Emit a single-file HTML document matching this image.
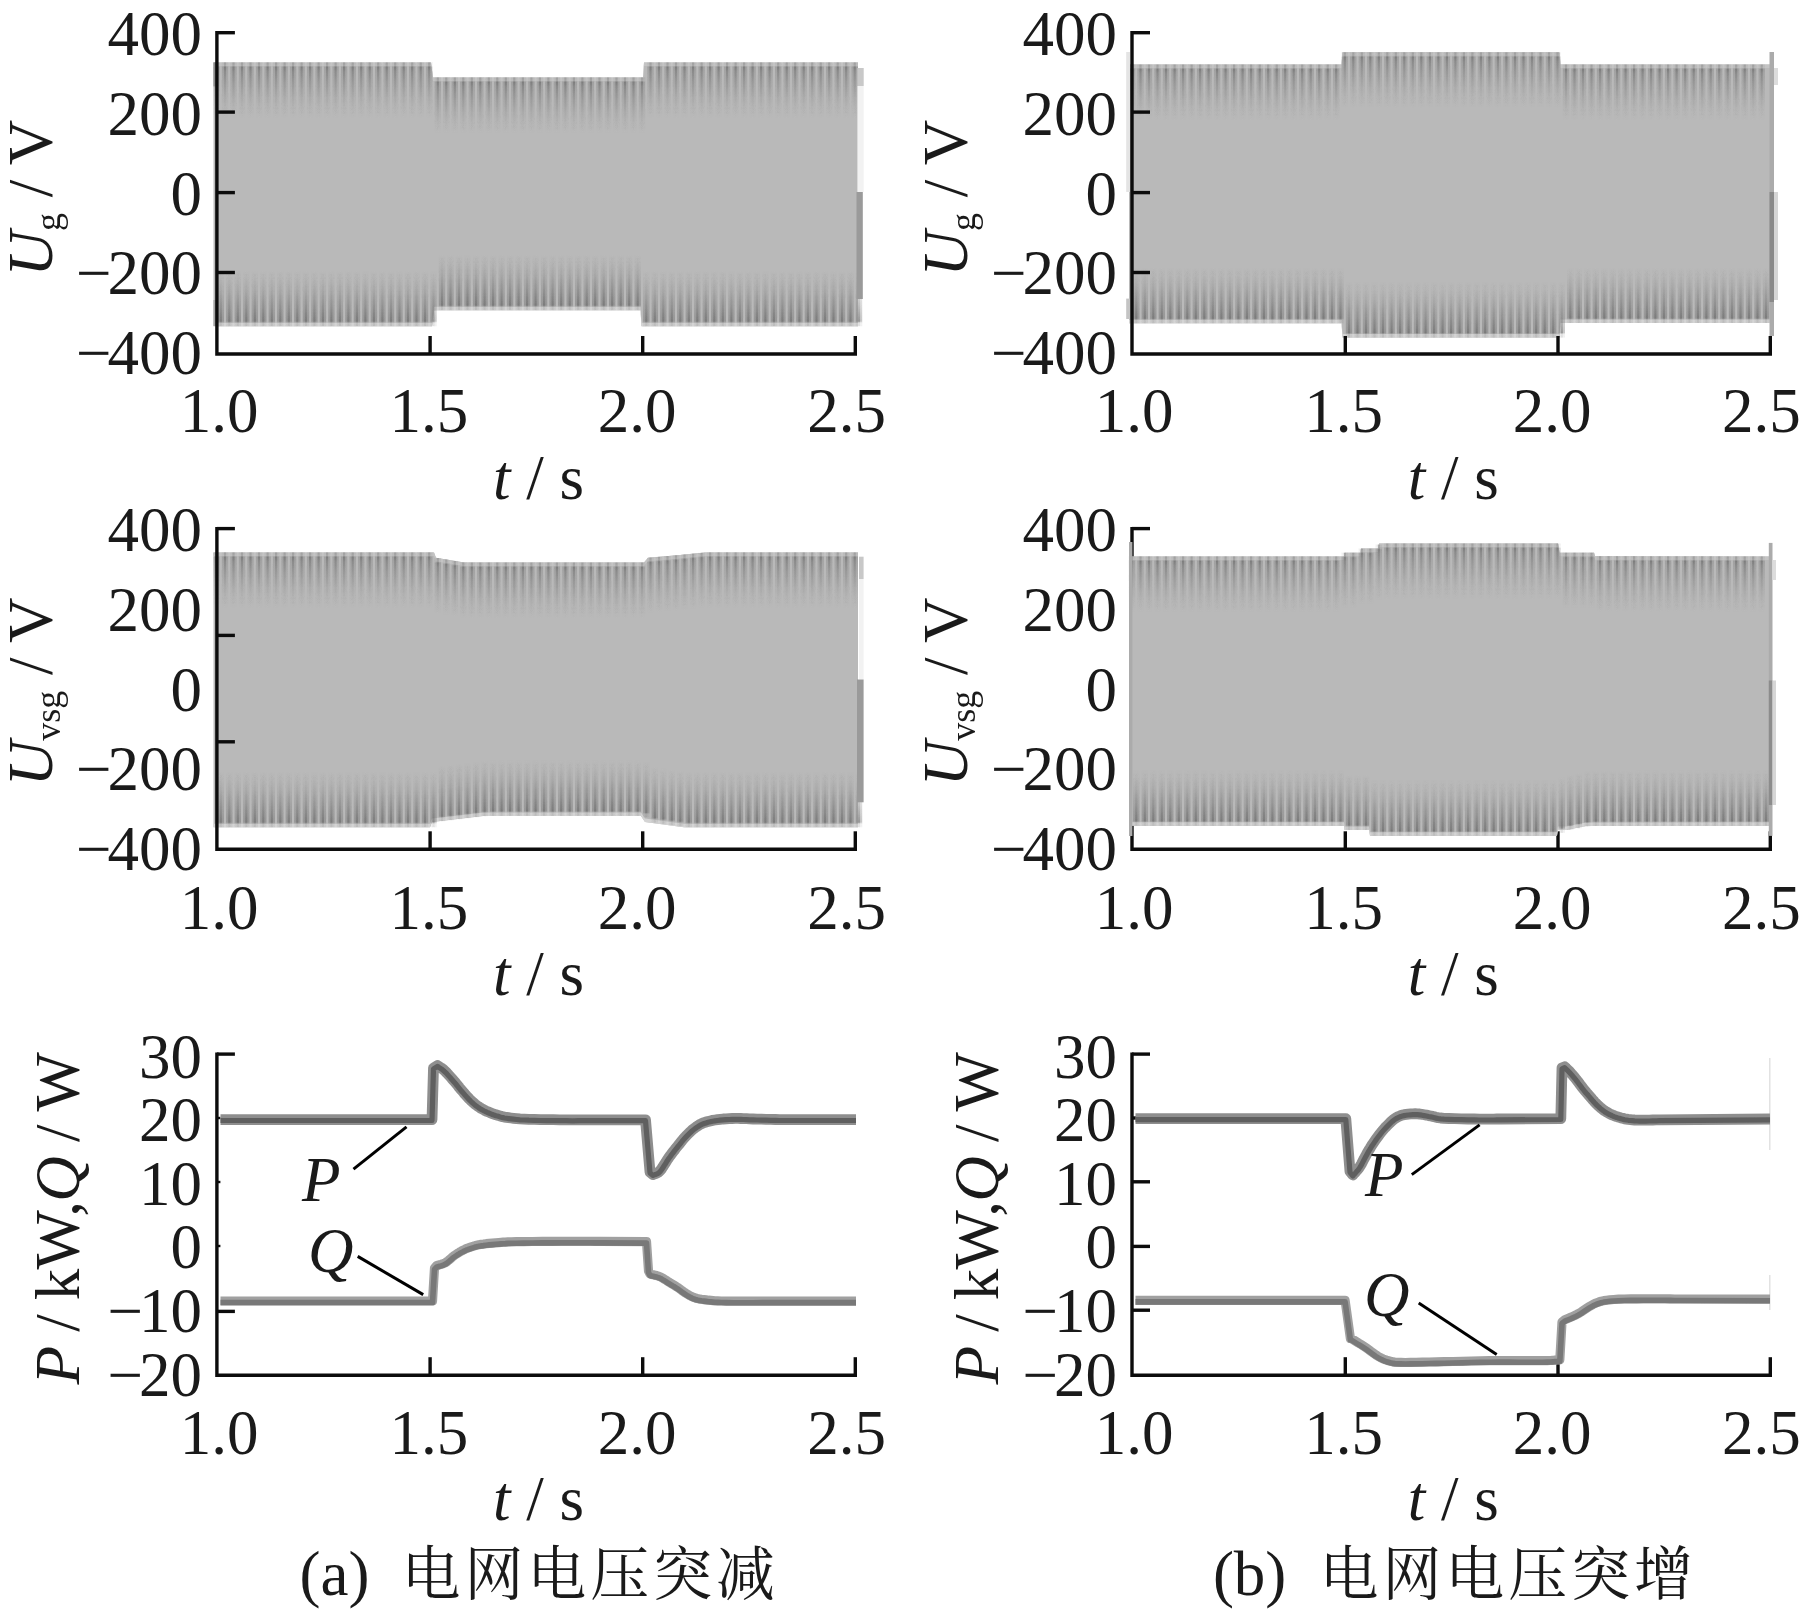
<!DOCTYPE html>
<html><head><meta charset="utf-8"><title>figure</title><style>html,body{margin:0;padding:0;background:#fff}svg{display:block;filter:grayscale(1)}</style></head><body>
<svg width="1805" height="1614" viewBox="0 0 1805 1614">
<defs><linearGradient id="gT" x1="0" y1="0" x2="0" y2="1"><stop offset="0" stop-color="#505050" stop-opacity="0.25"/><stop offset="0.06" stop-color="#505050" stop-opacity="0.2"/><stop offset="0.09" stop-color="#505050" stop-opacity="0.42"/><stop offset="0.16" stop-color="#505050" stop-opacity="0.3"/><stop offset="0.35" stop-color="#505050" stop-opacity="0.18"/><stop offset="0.65" stop-color="#505050" stop-opacity="0.06"/><stop offset="1" stop-color="#505050" stop-opacity="0"/></linearGradient>
<linearGradient id="gB" x1="0" y1="1" x2="0" y2="0"><stop offset="0" stop-color="#505050" stop-opacity="0.1"/><stop offset="0.06" stop-color="#505050" stop-opacity="0.1"/><stop offset="0.09" stop-color="#505050" stop-opacity="0.4"/><stop offset="0.16" stop-color="#505050" stop-opacity="0.33"/><stop offset="0.35" stop-color="#505050" stop-opacity="0.2"/><stop offset="0.65" stop-color="#505050" stop-opacity="0.07"/><stop offset="1" stop-color="#505050" stop-opacity="0"/></linearGradient>
<linearGradient id="gTh" x1="0" y1="0" x2="0" y2="1"><stop offset="0" stop-color="#505050" stop-opacity="0.1"/><stop offset="0.06" stop-color="#505050" stop-opacity="0.06"/><stop offset="0.09" stop-color="#505050" stop-opacity="0.24"/><stop offset="0.16" stop-color="#505050" stop-opacity="0.2"/><stop offset="0.35" stop-color="#505050" stop-opacity="0.15"/><stop offset="0.65" stop-color="#505050" stop-opacity="0.07"/><stop offset="0.85" stop-color="#505050" stop-opacity="0.02"/><stop offset="1" stop-color="#505050" stop-opacity="0"/></linearGradient>
<linearGradient id="gBh" x1="0" y1="1" x2="0" y2="0"><stop offset="0" stop-color="#505050" stop-opacity="0.08"/><stop offset="0.06" stop-color="#505050" stop-opacity="0.08"/><stop offset="0.09" stop-color="#505050" stop-opacity="0.32"/><stop offset="0.16" stop-color="#505050" stop-opacity="0.3"/><stop offset="0.35" stop-color="#505050" stop-opacity="0.22"/><stop offset="0.65" stop-color="#505050" stop-opacity="0.1"/><stop offset="0.85" stop-color="#505050" stop-opacity="0.03"/><stop offset="1" stop-color="#505050" stop-opacity="0"/></linearGradient>
<filter id="sb" x="0" y="0" width="1" height="1" filterUnits="objectBoundingBox"><feGaussianBlur stdDeviation="0.5"/></filter>
<filter id="soft" x="-5%" y="-20%" width="110%" height="140%"><feGaussianBlur stdDeviation="0.7"/></filter></defs>
<rect width="1805" height="1614" fill="#fff"/>
<polygon points="213.5,62.4 431,62.4 433,77.4 643,77.4 644,62.4 858,62.4 858,326.2 641.5,326.2 640.5,310.2 434,310.2 432,326.2 213.5,326.2" fill="#b9b9b9"/>
<polygon points="213.5,62.4 431,62.4 433,77.4 643,77.4 644,62.4 858,62.4 858,65.9 644,65.9 643,80.9 433,80.9 431,65.9 213.5,65.9" fill="#c4c4c4"/>
<polygon points="213.5,326.2 432,326.2 434,310.2 640.5,310.2 641.5,326.2 858,326.2 858,322.7 641.5,322.7 640.5,306.7 434,306.7 432,322.7 213.5,322.7" fill="#d4d4d4"/>
<g filter="url(#sb)"><rect x="213.3" y="62.4" width="6.4" height="56" fill="url(#gTh)"/><rect x="215.4" y="62.4" width="2.2" height="56" fill="url(#gT)"/><rect x="217.6" y="270.2" width="6.4" height="56" fill="url(#gBh)"/><rect x="219.7" y="270.2" width="2.2" height="56" fill="url(#gB)"/><rect x="221.8" y="62.4" width="6.4" height="56" fill="url(#gTh)"/><rect x="223.9" y="62.4" width="2.2" height="56" fill="url(#gT)"/><rect x="226.1" y="270.2" width="6.4" height="56" fill="url(#gBh)"/><rect x="228.2" y="270.2" width="2.2" height="56" fill="url(#gB)"/><rect x="230.3" y="62.4" width="6.4" height="56" fill="url(#gTh)"/><rect x="232.4" y="62.4" width="2.2" height="56" fill="url(#gT)"/><rect x="234.6" y="270.2" width="6.4" height="56" fill="url(#gBh)"/><rect x="236.7" y="270.2" width="2.2" height="56" fill="url(#gB)"/><rect x="238.8" y="62.4" width="6.4" height="56" fill="url(#gTh)"/><rect x="240.9" y="62.4" width="2.2" height="56" fill="url(#gT)"/><rect x="243.1" y="270.2" width="6.4" height="56" fill="url(#gBh)"/><rect x="245.2" y="270.2" width="2.2" height="56" fill="url(#gB)"/><rect x="247.3" y="62.4" width="6.4" height="56" fill="url(#gTh)"/><rect x="249.4" y="62.4" width="2.2" height="56" fill="url(#gT)"/><rect x="251.6" y="270.2" width="6.4" height="56" fill="url(#gBh)"/><rect x="253.7" y="270.2" width="2.2" height="56" fill="url(#gB)"/><rect x="255.9" y="62.4" width="6.4" height="56" fill="url(#gTh)"/><rect x="257.9" y="62.4" width="2.2" height="56" fill="url(#gT)"/><rect x="260.1" y="270.2" width="6.4" height="56" fill="url(#gBh)"/><rect x="262.2" y="270.2" width="2.2" height="56" fill="url(#gB)"/><rect x="264.4" y="62.4" width="6.4" height="56" fill="url(#gTh)"/><rect x="266.5" y="62.4" width="2.2" height="56" fill="url(#gT)"/><rect x="268.6" y="270.2" width="6.4" height="56" fill="url(#gBh)"/><rect x="270.7" y="270.2" width="2.2" height="56" fill="url(#gB)"/><rect x="272.9" y="62.4" width="6.4" height="56" fill="url(#gTh)"/><rect x="275" y="62.4" width="2.2" height="56" fill="url(#gT)"/><rect x="277.1" y="270.2" width="6.4" height="56" fill="url(#gBh)"/><rect x="279.2" y="270.2" width="2.2" height="56" fill="url(#gB)"/><rect x="281.4" y="62.4" width="6.4" height="56" fill="url(#gTh)"/><rect x="283.5" y="62.4" width="2.2" height="56" fill="url(#gT)"/><rect x="285.6" y="270.2" width="6.4" height="56" fill="url(#gBh)"/><rect x="287.7" y="270.2" width="2.2" height="56" fill="url(#gB)"/><rect x="289.9" y="62.4" width="6.4" height="56" fill="url(#gTh)"/><rect x="292" y="62.4" width="2.2" height="56" fill="url(#gT)"/><rect x="294.1" y="270.2" width="6.4" height="56" fill="url(#gBh)"/><rect x="296.2" y="270.2" width="2.2" height="56" fill="url(#gB)"/><rect x="298.4" y="62.4" width="6.4" height="56" fill="url(#gTh)"/><rect x="300.5" y="62.4" width="2.2" height="56" fill="url(#gT)"/><rect x="302.7" y="270.2" width="6.4" height="56" fill="url(#gBh)"/><rect x="304.8" y="270.2" width="2.2" height="56" fill="url(#gB)"/><rect x="306.9" y="62.4" width="6.4" height="56" fill="url(#gTh)"/><rect x="309" y="62.4" width="2.2" height="56" fill="url(#gT)"/><rect x="311.2" y="270.2" width="6.4" height="56" fill="url(#gBh)"/><rect x="313.3" y="270.2" width="2.2" height="56" fill="url(#gB)"/><rect x="315.4" y="62.4" width="6.4" height="56" fill="url(#gTh)"/><rect x="317.5" y="62.4" width="2.2" height="56" fill="url(#gT)"/><rect x="319.7" y="270.2" width="6.4" height="56" fill="url(#gBh)"/><rect x="321.8" y="270.2" width="2.2" height="56" fill="url(#gB)"/><rect x="323.9" y="62.4" width="6.4" height="56" fill="url(#gTh)"/><rect x="326" y="62.4" width="2.2" height="56" fill="url(#gT)"/><rect x="328.2" y="270.2" width="6.4" height="56" fill="url(#gBh)"/><rect x="330.3" y="270.2" width="2.2" height="56" fill="url(#gB)"/><rect x="332.4" y="62.4" width="6.4" height="56" fill="url(#gTh)"/><rect x="334.5" y="62.4" width="2.2" height="56" fill="url(#gT)"/><rect x="336.7" y="270.2" width="6.4" height="56" fill="url(#gBh)"/><rect x="338.8" y="270.2" width="2.2" height="56" fill="url(#gB)"/><rect x="340.9" y="62.4" width="6.4" height="56" fill="url(#gTh)"/><rect x="343" y="62.4" width="2.2" height="56" fill="url(#gT)"/><rect x="345.2" y="270.2" width="6.4" height="56" fill="url(#gBh)"/><rect x="347.3" y="270.2" width="2.2" height="56" fill="url(#gB)"/><rect x="349.5" y="62.4" width="6.4" height="56" fill="url(#gTh)"/><rect x="351.6" y="62.4" width="2.2" height="56" fill="url(#gT)"/><rect x="353.7" y="270.2" width="6.4" height="56" fill="url(#gBh)"/><rect x="355.8" y="270.2" width="2.2" height="56" fill="url(#gB)"/><rect x="358" y="62.4" width="6.4" height="56" fill="url(#gTh)"/><rect x="360.1" y="62.4" width="2.2" height="56" fill="url(#gT)"/><rect x="362.2" y="270.2" width="6.4" height="56" fill="url(#gBh)"/><rect x="364.3" y="270.2" width="2.2" height="56" fill="url(#gB)"/><rect x="366.5" y="62.4" width="6.4" height="56" fill="url(#gTh)"/><rect x="368.6" y="62.4" width="2.2" height="56" fill="url(#gT)"/><rect x="370.7" y="270.2" width="6.4" height="56" fill="url(#gBh)"/><rect x="372.8" y="270.2" width="2.2" height="56" fill="url(#gB)"/><rect x="375" y="62.4" width="6.4" height="56" fill="url(#gTh)"/><rect x="377.1" y="62.4" width="2.2" height="56" fill="url(#gT)"/><rect x="379.2" y="270.2" width="6.4" height="56" fill="url(#gBh)"/><rect x="381.3" y="270.2" width="2.2" height="56" fill="url(#gB)"/><rect x="383.5" y="62.4" width="6.4" height="56" fill="url(#gTh)"/><rect x="385.6" y="62.4" width="2.2" height="56" fill="url(#gT)"/><rect x="387.8" y="270.2" width="6.4" height="56" fill="url(#gBh)"/><rect x="389.9" y="270.2" width="2.2" height="56" fill="url(#gB)"/><rect x="392" y="62.4" width="6.4" height="56" fill="url(#gTh)"/><rect x="394.1" y="62.4" width="2.2" height="56" fill="url(#gT)"/><rect x="396.3" y="270.2" width="6.4" height="56" fill="url(#gBh)"/><rect x="398.4" y="270.2" width="2.2" height="56" fill="url(#gB)"/><rect x="400.5" y="62.4" width="6.4" height="56" fill="url(#gTh)"/><rect x="402.6" y="62.4" width="2.2" height="56" fill="url(#gT)"/><rect x="404.8" y="270.2" width="6.4" height="56" fill="url(#gBh)"/><rect x="406.9" y="270.2" width="2.2" height="56" fill="url(#gB)"/><rect x="409" y="62.4" width="6.4" height="56" fill="url(#gTh)"/><rect x="411.1" y="62.4" width="2.2" height="56" fill="url(#gT)"/><rect x="413.3" y="270.2" width="6.4" height="56" fill="url(#gBh)"/><rect x="415.4" y="270.2" width="2.2" height="56" fill="url(#gB)"/><rect x="417.5" y="62.4" width="6.4" height="56" fill="url(#gTh)"/><rect x="419.6" y="62.4" width="2.2" height="56" fill="url(#gT)"/><rect x="421.8" y="270.2" width="6.4" height="56" fill="url(#gBh)"/><rect x="423.9" y="270.2" width="2.2" height="56" fill="url(#gB)"/><rect x="426.1" y="62.4" width="6.4" height="56" fill="url(#gTh)"/><rect x="428.1" y="62.4" width="2.2" height="56" fill="url(#gT)"/><rect x="430.3" y="270.2" width="6.4" height="56" fill="url(#gBh)"/><rect x="432.4" y="270.2" width="2.2" height="56" fill="url(#gB)"/><rect x="434.6" y="77.4" width="6.4" height="56" fill="url(#gTh)"/><rect x="436.7" y="77.4" width="2.2" height="56" fill="url(#gT)"/><rect x="438.8" y="254.2" width="6.4" height="56" fill="url(#gBh)"/><rect x="440.9" y="254.2" width="2.2" height="56" fill="url(#gB)"/><rect x="443.1" y="77.4" width="6.4" height="56" fill="url(#gTh)"/><rect x="445.2" y="77.4" width="2.2" height="56" fill="url(#gT)"/><rect x="447.3" y="254.2" width="6.4" height="56" fill="url(#gBh)"/><rect x="449.4" y="254.2" width="2.2" height="56" fill="url(#gB)"/><rect x="451.6" y="77.4" width="6.4" height="56" fill="url(#gTh)"/><rect x="453.7" y="77.4" width="2.2" height="56" fill="url(#gT)"/><rect x="455.8" y="254.2" width="6.4" height="56" fill="url(#gBh)"/><rect x="457.9" y="254.2" width="2.2" height="56" fill="url(#gB)"/><rect x="460.1" y="77.4" width="6.4" height="56" fill="url(#gTh)"/><rect x="462.2" y="77.4" width="2.2" height="56" fill="url(#gT)"/><rect x="464.3" y="254.2" width="6.4" height="56" fill="url(#gBh)"/><rect x="466.4" y="254.2" width="2.2" height="56" fill="url(#gB)"/><rect x="468.6" y="77.4" width="6.4" height="56" fill="url(#gTh)"/><rect x="470.7" y="77.4" width="2.2" height="56" fill="url(#gT)"/><rect x="472.9" y="254.2" width="6.4" height="56" fill="url(#gBh)"/><rect x="475" y="254.2" width="2.2" height="56" fill="url(#gB)"/><rect x="477.1" y="77.4" width="6.4" height="56" fill="url(#gTh)"/><rect x="479.2" y="77.4" width="2.2" height="56" fill="url(#gT)"/><rect x="481.4" y="254.2" width="6.4" height="56" fill="url(#gBh)"/><rect x="483.5" y="254.2" width="2.2" height="56" fill="url(#gB)"/><rect x="485.6" y="77.4" width="6.4" height="56" fill="url(#gTh)"/><rect x="487.7" y="77.4" width="2.2" height="56" fill="url(#gT)"/><rect x="489.9" y="254.2" width="6.4" height="56" fill="url(#gBh)"/><rect x="492" y="254.2" width="2.2" height="56" fill="url(#gB)"/><rect x="494.1" y="77.4" width="6.4" height="56" fill="url(#gTh)"/><rect x="496.2" y="77.4" width="2.2" height="56" fill="url(#gT)"/><rect x="498.4" y="254.2" width="6.4" height="56" fill="url(#gBh)"/><rect x="500.5" y="254.2" width="2.2" height="56" fill="url(#gB)"/><rect x="502.6" y="77.4" width="6.4" height="56" fill="url(#gTh)"/><rect x="504.7" y="77.4" width="2.2" height="56" fill="url(#gT)"/><rect x="506.9" y="254.2" width="6.4" height="56" fill="url(#gBh)"/><rect x="509" y="254.2" width="2.2" height="56" fill="url(#gB)"/><rect x="511.1" y="77.4" width="6.4" height="56" fill="url(#gTh)"/><rect x="513.2" y="77.4" width="2.2" height="56" fill="url(#gT)"/><rect x="515.4" y="254.2" width="6.4" height="56" fill="url(#gBh)"/><rect x="517.5" y="254.2" width="2.2" height="56" fill="url(#gB)"/><rect x="519.7" y="77.4" width="6.4" height="56" fill="url(#gTh)"/><rect x="521.8" y="77.4" width="2.2" height="56" fill="url(#gT)"/><rect x="523.9" y="254.2" width="6.4" height="56" fill="url(#gBh)"/><rect x="526" y="254.2" width="2.2" height="56" fill="url(#gB)"/><rect x="528.2" y="77.4" width="6.4" height="56" fill="url(#gTh)"/><rect x="530.3" y="77.4" width="2.2" height="56" fill="url(#gT)"/><rect x="532.4" y="254.2" width="6.4" height="56" fill="url(#gBh)"/><rect x="534.5" y="254.2" width="2.2" height="56" fill="url(#gB)"/><rect x="536.7" y="77.4" width="6.4" height="56" fill="url(#gTh)"/><rect x="538.8" y="77.4" width="2.2" height="56" fill="url(#gT)"/><rect x="540.9" y="254.2" width="6.4" height="56" fill="url(#gBh)"/><rect x="543" y="254.2" width="2.2" height="56" fill="url(#gB)"/><rect x="545.2" y="77.4" width="6.4" height="56" fill="url(#gTh)"/><rect x="547.3" y="77.4" width="2.2" height="56" fill="url(#gT)"/><rect x="549.4" y="254.2" width="6.4" height="56" fill="url(#gBh)"/><rect x="551.5" y="254.2" width="2.2" height="56" fill="url(#gB)"/><rect x="553.7" y="77.4" width="6.4" height="56" fill="url(#gTh)"/><rect x="555.8" y="77.4" width="2.2" height="56" fill="url(#gT)"/><rect x="558" y="254.2" width="6.4" height="56" fill="url(#gBh)"/><rect x="560.1" y="254.2" width="2.2" height="56" fill="url(#gB)"/><rect x="562.2" y="77.4" width="6.4" height="56" fill="url(#gTh)"/><rect x="564.3" y="77.4" width="2.2" height="56" fill="url(#gT)"/><rect x="566.5" y="254.2" width="6.4" height="56" fill="url(#gBh)"/><rect x="568.6" y="254.2" width="2.2" height="56" fill="url(#gB)"/><rect x="570.7" y="77.4" width="6.4" height="56" fill="url(#gTh)"/><rect x="572.8" y="77.4" width="2.2" height="56" fill="url(#gT)"/><rect x="575" y="254.2" width="6.4" height="56" fill="url(#gBh)"/><rect x="577.1" y="254.2" width="2.2" height="56" fill="url(#gB)"/><rect x="579.2" y="77.4" width="6.4" height="56" fill="url(#gTh)"/><rect x="581.3" y="77.4" width="2.2" height="56" fill="url(#gT)"/><rect x="583.5" y="254.2" width="6.4" height="56" fill="url(#gBh)"/><rect x="585.6" y="254.2" width="2.2" height="56" fill="url(#gB)"/><rect x="587.7" y="77.4" width="6.4" height="56" fill="url(#gTh)"/><rect x="589.8" y="77.4" width="2.2" height="56" fill="url(#gT)"/><rect x="592" y="254.2" width="6.4" height="56" fill="url(#gBh)"/><rect x="594.1" y="254.2" width="2.2" height="56" fill="url(#gB)"/><rect x="596.2" y="77.4" width="6.4" height="56" fill="url(#gTh)"/><rect x="598.4" y="77.4" width="2.2" height="56" fill="url(#gT)"/><rect x="600.5" y="254.2" width="6.4" height="56" fill="url(#gBh)"/><rect x="602.6" y="254.2" width="2.2" height="56" fill="url(#gB)"/><rect x="604.8" y="77.4" width="6.4" height="56" fill="url(#gTh)"/><rect x="606.9" y="77.4" width="2.2" height="56" fill="url(#gT)"/><rect x="609" y="254.2" width="6.4" height="56" fill="url(#gBh)"/><rect x="611.1" y="254.2" width="2.2" height="56" fill="url(#gB)"/><rect x="613.3" y="77.4" width="6.4" height="56" fill="url(#gTh)"/><rect x="615.4" y="77.4" width="2.2" height="56" fill="url(#gT)"/><rect x="617.5" y="254.2" width="6.4" height="56" fill="url(#gBh)"/><rect x="619.6" y="254.2" width="2.2" height="56" fill="url(#gB)"/><rect x="621.8" y="77.4" width="6.4" height="56" fill="url(#gTh)"/><rect x="623.9" y="77.4" width="2.2" height="56" fill="url(#gT)"/><rect x="626" y="254.2" width="6.4" height="56" fill="url(#gBh)"/><rect x="628.1" y="254.2" width="2.2" height="56" fill="url(#gB)"/><rect x="630.3" y="77.4" width="6.4" height="56" fill="url(#gTh)"/><rect x="632.4" y="77.4" width="2.2" height="56" fill="url(#gT)"/><rect x="634.5" y="254.2" width="6.4" height="56" fill="url(#gBh)"/><rect x="636.6" y="254.2" width="2.2" height="56" fill="url(#gB)"/><rect x="638.8" y="77.4" width="6.4" height="56" fill="url(#gTh)"/><rect x="640.9" y="77.4" width="2.2" height="56" fill="url(#gT)"/><rect x="643.1" y="270.2" width="6.4" height="56" fill="url(#gBh)"/><rect x="645.2" y="270.2" width="2.2" height="56" fill="url(#gB)"/><rect x="647.3" y="62.4" width="6.4" height="56" fill="url(#gTh)"/><rect x="649.4" y="62.4" width="2.2" height="56" fill="url(#gT)"/><rect x="651.6" y="270.2" width="6.4" height="56" fill="url(#gBh)"/><rect x="653.7" y="270.2" width="2.2" height="56" fill="url(#gB)"/><rect x="655.8" y="62.4" width="6.4" height="56" fill="url(#gTh)"/><rect x="657.9" y="62.4" width="2.2" height="56" fill="url(#gT)"/><rect x="660.1" y="270.2" width="6.4" height="56" fill="url(#gBh)"/><rect x="662.2" y="270.2" width="2.2" height="56" fill="url(#gB)"/><rect x="664.3" y="62.4" width="6.4" height="56" fill="url(#gTh)"/><rect x="666.4" y="62.4" width="2.2" height="56" fill="url(#gT)"/><rect x="668.6" y="270.2" width="6.4" height="56" fill="url(#gBh)"/><rect x="670.7" y="270.2" width="2.2" height="56" fill="url(#gB)"/><rect x="672.8" y="62.4" width="6.4" height="56" fill="url(#gTh)"/><rect x="674.9" y="62.4" width="2.2" height="56" fill="url(#gT)"/><rect x="677.1" y="270.2" width="6.4" height="56" fill="url(#gBh)"/><rect x="679.2" y="270.2" width="2.2" height="56" fill="url(#gB)"/><rect x="681.3" y="62.4" width="6.4" height="56" fill="url(#gTh)"/><rect x="683.4" y="62.4" width="2.2" height="56" fill="url(#gT)"/><rect x="685.6" y="270.2" width="6.4" height="56" fill="url(#gBh)"/><rect x="687.7" y="270.2" width="2.2" height="56" fill="url(#gB)"/><rect x="689.9" y="62.4" width="6.4" height="56" fill="url(#gTh)"/><rect x="692" y="62.4" width="2.2" height="56" fill="url(#gT)"/><rect x="694.1" y="270.2" width="6.4" height="56" fill="url(#gBh)"/><rect x="696.2" y="270.2" width="2.2" height="56" fill="url(#gB)"/><rect x="698.4" y="62.4" width="6.4" height="56" fill="url(#gTh)"/><rect x="700.5" y="62.4" width="2.2" height="56" fill="url(#gT)"/><rect x="702.6" y="270.2" width="6.4" height="56" fill="url(#gBh)"/><rect x="704.7" y="270.2" width="2.2" height="56" fill="url(#gB)"/><rect x="706.9" y="62.4" width="6.4" height="56" fill="url(#gTh)"/><rect x="709" y="62.4" width="2.2" height="56" fill="url(#gT)"/><rect x="711.1" y="270.2" width="6.4" height="56" fill="url(#gBh)"/><rect x="713.2" y="270.2" width="2.2" height="56" fill="url(#gB)"/><rect x="715.4" y="62.4" width="6.4" height="56" fill="url(#gTh)"/><rect x="717.5" y="62.4" width="2.2" height="56" fill="url(#gT)"/><rect x="719.6" y="270.2" width="6.4" height="56" fill="url(#gBh)"/><rect x="721.7" y="270.2" width="2.2" height="56" fill="url(#gB)"/><rect x="723.9" y="62.4" width="6.4" height="56" fill="url(#gTh)"/><rect x="726" y="62.4" width="2.2" height="56" fill="url(#gT)"/><rect x="728.2" y="270.2" width="6.4" height="56" fill="url(#gBh)"/><rect x="730.3" y="270.2" width="2.2" height="56" fill="url(#gB)"/><rect x="732.4" y="62.4" width="6.4" height="56" fill="url(#gTh)"/><rect x="734.5" y="62.4" width="2.2" height="56" fill="url(#gT)"/><rect x="736.7" y="270.2" width="6.4" height="56" fill="url(#gBh)"/><rect x="738.8" y="270.2" width="2.2" height="56" fill="url(#gB)"/><rect x="740.9" y="62.4" width="6.4" height="56" fill="url(#gTh)"/><rect x="743" y="62.4" width="2.2" height="56" fill="url(#gT)"/><rect x="745.2" y="270.2" width="6.4" height="56" fill="url(#gBh)"/><rect x="747.3" y="270.2" width="2.2" height="56" fill="url(#gB)"/><rect x="749.4" y="62.4" width="6.4" height="56" fill="url(#gTh)"/><rect x="751.5" y="62.4" width="2.2" height="56" fill="url(#gT)"/><rect x="753.7" y="270.2" width="6.4" height="56" fill="url(#gBh)"/><rect x="755.8" y="270.2" width="2.2" height="56" fill="url(#gB)"/><rect x="757.9" y="62.4" width="6.4" height="56" fill="url(#gTh)"/><rect x="760" y="62.4" width="2.2" height="56" fill="url(#gT)"/><rect x="762.2" y="270.2" width="6.4" height="56" fill="url(#gBh)"/><rect x="764.3" y="270.2" width="2.2" height="56" fill="url(#gB)"/><rect x="766.4" y="62.4" width="6.4" height="56" fill="url(#gTh)"/><rect x="768.5" y="62.4" width="2.2" height="56" fill="url(#gT)"/><rect x="770.7" y="270.2" width="6.4" height="56" fill="url(#gBh)"/><rect x="772.8" y="270.2" width="2.2" height="56" fill="url(#gB)"/><rect x="775" y="62.4" width="6.4" height="56" fill="url(#gTh)"/><rect x="777.1" y="62.4" width="2.2" height="56" fill="url(#gT)"/><rect x="779.2" y="270.2" width="6.4" height="56" fill="url(#gBh)"/><rect x="781.3" y="270.2" width="2.2" height="56" fill="url(#gB)"/><rect x="783.5" y="62.4" width="6.4" height="56" fill="url(#gTh)"/><rect x="785.6" y="62.4" width="2.2" height="56" fill="url(#gT)"/><rect x="787.7" y="270.2" width="6.4" height="56" fill="url(#gBh)"/><rect x="789.8" y="270.2" width="2.2" height="56" fill="url(#gB)"/><rect x="792" y="62.4" width="6.4" height="56" fill="url(#gTh)"/><rect x="794.1" y="62.4" width="2.2" height="56" fill="url(#gT)"/><rect x="796.2" y="270.2" width="6.4" height="56" fill="url(#gBh)"/><rect x="798.3" y="270.2" width="2.2" height="56" fill="url(#gB)"/><rect x="800.5" y="62.4" width="6.4" height="56" fill="url(#gTh)"/><rect x="802.6" y="62.4" width="2.2" height="56" fill="url(#gT)"/><rect x="804.7" y="270.2" width="6.4" height="56" fill="url(#gBh)"/><rect x="806.8" y="270.2" width="2.2" height="56" fill="url(#gB)"/><rect x="809" y="62.4" width="6.4" height="56" fill="url(#gTh)"/><rect x="811.1" y="62.4" width="2.2" height="56" fill="url(#gT)"/><rect x="813.3" y="270.2" width="6.4" height="56" fill="url(#gBh)"/><rect x="815.4" y="270.2" width="2.2" height="56" fill="url(#gB)"/><rect x="817.5" y="62.4" width="6.4" height="56" fill="url(#gTh)"/><rect x="819.6" y="62.4" width="2.2" height="56" fill="url(#gT)"/><rect x="821.8" y="270.2" width="6.4" height="56" fill="url(#gBh)"/><rect x="823.9" y="270.2" width="2.2" height="56" fill="url(#gB)"/><rect x="826" y="62.4" width="6.4" height="56" fill="url(#gTh)"/><rect x="828.1" y="62.4" width="2.2" height="56" fill="url(#gT)"/><rect x="830.3" y="270.2" width="6.4" height="56" fill="url(#gBh)"/><rect x="832.4" y="270.2" width="2.2" height="56" fill="url(#gB)"/><rect x="834.5" y="62.4" width="6.4" height="56" fill="url(#gTh)"/><rect x="836.6" y="62.4" width="2.2" height="56" fill="url(#gT)"/><rect x="838.8" y="270.2" width="6.4" height="56" fill="url(#gBh)"/><rect x="840.9" y="270.2" width="2.2" height="56" fill="url(#gB)"/><rect x="843" y="62.4" width="6.4" height="56" fill="url(#gTh)"/><rect x="845.1" y="62.4" width="2.2" height="56" fill="url(#gT)"/><rect x="847.3" y="270.2" width="6.4" height="56" fill="url(#gBh)"/><rect x="849.4" y="270.2" width="2.2" height="56" fill="url(#gB)"/><rect x="851.5" y="62.4" width="6.4" height="56" fill="url(#gTh)"/><rect x="853.6" y="62.4" width="2.2" height="56" fill="url(#gT)"/><rect x="855.8" y="270.2" width="6.4" height="56" fill="url(#gBh)"/><rect x="857.9" y="270.2" width="2.2" height="56" fill="url(#gB)"/></g>
<polygon points="1129,64.5 1341.5,64.5 1342.5,52.3 1559.5,52.3 1560.5,64.5 1771,64.5 1771,323 1560.5,323 1559.5,337.6 1342.5,337.6 1341.5,323.3 1129,323.3" fill="#b9b9b9"/>
<polygon points="1129,64.5 1341.5,64.5 1342.5,52.3 1559.5,52.3 1560.5,64.5 1771,64.5 1771,68 1560.5,68 1559.5,55.8 1342.5,55.8 1341.5,68 1129,68" fill="#c4c4c4"/>
<polygon points="1129,323.3 1341.5,323.3 1342.5,337.6 1559.5,337.6 1560.5,323 1771,323 1771,319.5 1560.5,319.5 1559.5,334.1 1342.5,334.1 1341.5,319.8 1129,319.8" fill="#d4d4d4"/>
<g filter="url(#sb)"><rect x="1128.8" y="64.5" width="6.4" height="56" fill="url(#gTh)"/><rect x="1130.9" y="64.5" width="2.2" height="56" fill="url(#gT)"/><rect x="1133.1" y="267.3" width="6.4" height="56" fill="url(#gBh)"/><rect x="1135.2" y="267.3" width="2.2" height="56" fill="url(#gB)"/><rect x="1137.3" y="64.5" width="6.4" height="56" fill="url(#gTh)"/><rect x="1139.4" y="64.5" width="2.2" height="56" fill="url(#gT)"/><rect x="1141.6" y="267.3" width="6.4" height="56" fill="url(#gBh)"/><rect x="1143.7" y="267.3" width="2.2" height="56" fill="url(#gB)"/><rect x="1145.8" y="64.5" width="6.4" height="56" fill="url(#gTh)"/><rect x="1147.9" y="64.5" width="2.2" height="56" fill="url(#gT)"/><rect x="1150.1" y="267.3" width="6.4" height="56" fill="url(#gBh)"/><rect x="1152.2" y="267.3" width="2.2" height="56" fill="url(#gB)"/><rect x="1154.3" y="64.5" width="6.4" height="56" fill="url(#gTh)"/><rect x="1156.4" y="64.5" width="2.2" height="56" fill="url(#gT)"/><rect x="1158.6" y="267.3" width="6.4" height="56" fill="url(#gBh)"/><rect x="1160.7" y="267.3" width="2.2" height="56" fill="url(#gB)"/><rect x="1162.8" y="64.5" width="6.4" height="56" fill="url(#gTh)"/><rect x="1164.9" y="64.5" width="2.2" height="56" fill="url(#gT)"/><rect x="1167.1" y="267.3" width="6.4" height="56" fill="url(#gBh)"/><rect x="1169.2" y="267.3" width="2.2" height="56" fill="url(#gB)"/><rect x="1171.3" y="64.5" width="6.4" height="56" fill="url(#gTh)"/><rect x="1173.5" y="64.5" width="2.2" height="56" fill="url(#gT)"/><rect x="1175.6" y="267.3" width="6.4" height="56" fill="url(#gBh)"/><rect x="1177.7" y="267.3" width="2.2" height="56" fill="url(#gB)"/><rect x="1179.9" y="64.5" width="6.4" height="56" fill="url(#gTh)"/><rect x="1182" y="64.5" width="2.2" height="56" fill="url(#gT)"/><rect x="1184.1" y="267.3" width="6.4" height="56" fill="url(#gBh)"/><rect x="1186.2" y="267.3" width="2.2" height="56" fill="url(#gB)"/><rect x="1188.4" y="64.5" width="6.4" height="56" fill="url(#gTh)"/><rect x="1190.5" y="64.5" width="2.2" height="56" fill="url(#gT)"/><rect x="1192.6" y="267.3" width="6.4" height="56" fill="url(#gBh)"/><rect x="1194.7" y="267.3" width="2.2" height="56" fill="url(#gB)"/><rect x="1196.9" y="64.5" width="6.4" height="56" fill="url(#gTh)"/><rect x="1199" y="64.5" width="2.2" height="56" fill="url(#gT)"/><rect x="1201.1" y="267.3" width="6.4" height="56" fill="url(#gBh)"/><rect x="1203.2" y="267.3" width="2.2" height="56" fill="url(#gB)"/><rect x="1205.4" y="64.5" width="6.4" height="56" fill="url(#gTh)"/><rect x="1207.5" y="64.5" width="2.2" height="56" fill="url(#gT)"/><rect x="1209.6" y="267.3" width="6.4" height="56" fill="url(#gBh)"/><rect x="1211.7" y="267.3" width="2.2" height="56" fill="url(#gB)"/><rect x="1213.9" y="64.5" width="6.4" height="56" fill="url(#gTh)"/><rect x="1216" y="64.5" width="2.2" height="56" fill="url(#gT)"/><rect x="1218.2" y="267.3" width="6.4" height="56" fill="url(#gBh)"/><rect x="1220.3" y="267.3" width="2.2" height="56" fill="url(#gB)"/><rect x="1222.4" y="64.5" width="6.4" height="56" fill="url(#gTh)"/><rect x="1224.5" y="64.5" width="2.2" height="56" fill="url(#gT)"/><rect x="1226.7" y="267.3" width="6.4" height="56" fill="url(#gBh)"/><rect x="1228.8" y="267.3" width="2.2" height="56" fill="url(#gB)"/><rect x="1230.9" y="64.5" width="6.4" height="56" fill="url(#gTh)"/><rect x="1233" y="64.5" width="2.2" height="56" fill="url(#gT)"/><rect x="1235.2" y="267.3" width="6.4" height="56" fill="url(#gBh)"/><rect x="1237.3" y="267.3" width="2.2" height="56" fill="url(#gB)"/><rect x="1239.4" y="64.5" width="6.4" height="56" fill="url(#gTh)"/><rect x="1241.5" y="64.5" width="2.2" height="56" fill="url(#gT)"/><rect x="1243.7" y="267.3" width="6.4" height="56" fill="url(#gBh)"/><rect x="1245.8" y="267.3" width="2.2" height="56" fill="url(#gB)"/><rect x="1247.9" y="64.5" width="6.4" height="56" fill="url(#gTh)"/><rect x="1250" y="64.5" width="2.2" height="56" fill="url(#gT)"/><rect x="1252.2" y="267.3" width="6.4" height="56" fill="url(#gBh)"/><rect x="1254.3" y="267.3" width="2.2" height="56" fill="url(#gB)"/><rect x="1256.5" y="64.5" width="6.4" height="56" fill="url(#gTh)"/><rect x="1258.6" y="64.5" width="2.2" height="56" fill="url(#gT)"/><rect x="1260.7" y="267.3" width="6.4" height="56" fill="url(#gBh)"/><rect x="1262.8" y="267.3" width="2.2" height="56" fill="url(#gB)"/><rect x="1265" y="64.5" width="6.4" height="56" fill="url(#gTh)"/><rect x="1267.1" y="64.5" width="2.2" height="56" fill="url(#gT)"/><rect x="1269.2" y="267.3" width="6.4" height="56" fill="url(#gBh)"/><rect x="1271.3" y="267.3" width="2.2" height="56" fill="url(#gB)"/><rect x="1273.5" y="64.5" width="6.4" height="56" fill="url(#gTh)"/><rect x="1275.6" y="64.5" width="2.2" height="56" fill="url(#gT)"/><rect x="1277.7" y="267.3" width="6.4" height="56" fill="url(#gBh)"/><rect x="1279.8" y="267.3" width="2.2" height="56" fill="url(#gB)"/><rect x="1282" y="64.5" width="6.4" height="56" fill="url(#gTh)"/><rect x="1284.1" y="64.5" width="2.2" height="56" fill="url(#gT)"/><rect x="1286.2" y="267.3" width="6.4" height="56" fill="url(#gBh)"/><rect x="1288.3" y="267.3" width="2.2" height="56" fill="url(#gB)"/><rect x="1290.5" y="64.5" width="6.4" height="56" fill="url(#gTh)"/><rect x="1292.6" y="64.5" width="2.2" height="56" fill="url(#gT)"/><rect x="1294.7" y="267.3" width="6.4" height="56" fill="url(#gBh)"/><rect x="1296.8" y="267.3" width="2.2" height="56" fill="url(#gB)"/><rect x="1299" y="64.5" width="6.4" height="56" fill="url(#gTh)"/><rect x="1301.1" y="64.5" width="2.2" height="56" fill="url(#gT)"/><rect x="1303.3" y="267.3" width="6.4" height="56" fill="url(#gBh)"/><rect x="1305.4" y="267.3" width="2.2" height="56" fill="url(#gB)"/><rect x="1307.5" y="64.5" width="6.4" height="56" fill="url(#gTh)"/><rect x="1309.6" y="64.5" width="2.2" height="56" fill="url(#gT)"/><rect x="1311.8" y="267.3" width="6.4" height="56" fill="url(#gBh)"/><rect x="1313.9" y="267.3" width="2.2" height="56" fill="url(#gB)"/><rect x="1316" y="64.5" width="6.4" height="56" fill="url(#gTh)"/><rect x="1318.1" y="64.5" width="2.2" height="56" fill="url(#gT)"/><rect x="1320.3" y="267.3" width="6.4" height="56" fill="url(#gBh)"/><rect x="1322.4" y="267.3" width="2.2" height="56" fill="url(#gB)"/><rect x="1324.5" y="64.5" width="6.4" height="56" fill="url(#gTh)"/><rect x="1326.6" y="64.5" width="2.2" height="56" fill="url(#gT)"/><rect x="1328.8" y="267.3" width="6.4" height="56" fill="url(#gBh)"/><rect x="1330.9" y="267.3" width="2.2" height="56" fill="url(#gB)"/><rect x="1333" y="64.5" width="6.4" height="56" fill="url(#gTh)"/><rect x="1335.1" y="64.5" width="2.2" height="56" fill="url(#gT)"/><rect x="1337.3" y="267.3" width="6.4" height="56" fill="url(#gBh)"/><rect x="1339.4" y="267.3" width="2.2" height="56" fill="url(#gB)"/><rect x="1341.5" y="52.3" width="6.4" height="56" fill="url(#gTh)"/><rect x="1343.7" y="52.3" width="2.2" height="56" fill="url(#gT)"/><rect x="1345.8" y="281.6" width="6.4" height="56" fill="url(#gBh)"/><rect x="1347.9" y="281.6" width="2.2" height="56" fill="url(#gB)"/><rect x="1350.1" y="52.3" width="6.4" height="56" fill="url(#gTh)"/><rect x="1352.2" y="52.3" width="2.2" height="56" fill="url(#gT)"/><rect x="1354.3" y="281.6" width="6.4" height="56" fill="url(#gBh)"/><rect x="1356.4" y="281.6" width="2.2" height="56" fill="url(#gB)"/><rect x="1358.6" y="52.3" width="6.4" height="56" fill="url(#gTh)"/><rect x="1360.7" y="52.3" width="2.2" height="56" fill="url(#gT)"/><rect x="1362.8" y="281.6" width="6.4" height="56" fill="url(#gBh)"/><rect x="1364.9" y="281.6" width="2.2" height="56" fill="url(#gB)"/><rect x="1367.1" y="52.3" width="6.4" height="56" fill="url(#gTh)"/><rect x="1369.2" y="52.3" width="2.2" height="56" fill="url(#gT)"/><rect x="1371.3" y="281.6" width="6.4" height="56" fill="url(#gBh)"/><rect x="1373.4" y="281.6" width="2.2" height="56" fill="url(#gB)"/><rect x="1375.6" y="52.3" width="6.4" height="56" fill="url(#gTh)"/><rect x="1377.7" y="52.3" width="2.2" height="56" fill="url(#gT)"/><rect x="1379.8" y="281.6" width="6.4" height="56" fill="url(#gBh)"/><rect x="1381.9" y="281.6" width="2.2" height="56" fill="url(#gB)"/><rect x="1384.1" y="52.3" width="6.4" height="56" fill="url(#gTh)"/><rect x="1386.2" y="52.3" width="2.2" height="56" fill="url(#gT)"/><rect x="1388.4" y="281.6" width="6.4" height="56" fill="url(#gBh)"/><rect x="1390.5" y="281.6" width="2.2" height="56" fill="url(#gB)"/><rect x="1392.6" y="52.3" width="6.4" height="56" fill="url(#gTh)"/><rect x="1394.7" y="52.3" width="2.2" height="56" fill="url(#gT)"/><rect x="1396.9" y="281.6" width="6.4" height="56" fill="url(#gBh)"/><rect x="1399" y="281.6" width="2.2" height="56" fill="url(#gB)"/><rect x="1401.1" y="52.3" width="6.4" height="56" fill="url(#gTh)"/><rect x="1403.2" y="52.3" width="2.2" height="56" fill="url(#gT)"/><rect x="1405.4" y="281.6" width="6.4" height="56" fill="url(#gBh)"/><rect x="1407.5" y="281.6" width="2.2" height="56" fill="url(#gB)"/><rect x="1409.6" y="52.3" width="6.4" height="56" fill="url(#gTh)"/><rect x="1411.7" y="52.3" width="2.2" height="56" fill="url(#gT)"/><rect x="1413.9" y="281.6" width="6.4" height="56" fill="url(#gBh)"/><rect x="1416" y="281.6" width="2.2" height="56" fill="url(#gB)"/><rect x="1418.1" y="52.3" width="6.4" height="56" fill="url(#gTh)"/><rect x="1420.2" y="52.3" width="2.2" height="56" fill="url(#gT)"/><rect x="1422.4" y="281.6" width="6.4" height="56" fill="url(#gBh)"/><rect x="1424.5" y="281.6" width="2.2" height="56" fill="url(#gB)"/><rect x="1426.6" y="52.3" width="6.4" height="56" fill="url(#gTh)"/><rect x="1428.8" y="52.3" width="2.2" height="56" fill="url(#gT)"/><rect x="1430.9" y="281.6" width="6.4" height="56" fill="url(#gBh)"/><rect x="1433" y="281.6" width="2.2" height="56" fill="url(#gB)"/><rect x="1435.2" y="52.3" width="6.4" height="56" fill="url(#gTh)"/><rect x="1437.3" y="52.3" width="2.2" height="56" fill="url(#gT)"/><rect x="1439.4" y="281.6" width="6.4" height="56" fill="url(#gBh)"/><rect x="1441.5" y="281.6" width="2.2" height="56" fill="url(#gB)"/><rect x="1443.7" y="52.3" width="6.4" height="56" fill="url(#gTh)"/><rect x="1445.8" y="52.3" width="2.2" height="56" fill="url(#gT)"/><rect x="1447.9" y="281.6" width="6.4" height="56" fill="url(#gBh)"/><rect x="1450" y="281.6" width="2.2" height="56" fill="url(#gB)"/><rect x="1452.2" y="52.3" width="6.4" height="56" fill="url(#gTh)"/><rect x="1454.3" y="52.3" width="2.2" height="56" fill="url(#gT)"/><rect x="1456.4" y="281.6" width="6.4" height="56" fill="url(#gBh)"/><rect x="1458.5" y="281.6" width="2.2" height="56" fill="url(#gB)"/><rect x="1460.7" y="52.3" width="6.4" height="56" fill="url(#gTh)"/><rect x="1462.8" y="52.3" width="2.2" height="56" fill="url(#gT)"/><rect x="1464.9" y="281.6" width="6.4" height="56" fill="url(#gBh)"/><rect x="1467" y="281.6" width="2.2" height="56" fill="url(#gB)"/><rect x="1469.2" y="52.3" width="6.4" height="56" fill="url(#gTh)"/><rect x="1471.3" y="52.3" width="2.2" height="56" fill="url(#gT)"/><rect x="1473.5" y="281.6" width="6.4" height="56" fill="url(#gBh)"/><rect x="1475.6" y="281.6" width="2.2" height="56" fill="url(#gB)"/><rect x="1477.7" y="52.3" width="6.4" height="56" fill="url(#gTh)"/><rect x="1479.8" y="52.3" width="2.2" height="56" fill="url(#gT)"/><rect x="1482" y="281.6" width="6.4" height="56" fill="url(#gBh)"/><rect x="1484.1" y="281.6" width="2.2" height="56" fill="url(#gB)"/><rect x="1486.2" y="52.3" width="6.4" height="56" fill="url(#gTh)"/><rect x="1488.3" y="52.3" width="2.2" height="56" fill="url(#gT)"/><rect x="1490.5" y="281.6" width="6.4" height="56" fill="url(#gBh)"/><rect x="1492.6" y="281.6" width="2.2" height="56" fill="url(#gB)"/><rect x="1494.7" y="52.3" width="6.4" height="56" fill="url(#gTh)"/><rect x="1496.8" y="52.3" width="2.2" height="56" fill="url(#gT)"/><rect x="1499" y="281.6" width="6.4" height="56" fill="url(#gBh)"/><rect x="1501.1" y="281.6" width="2.2" height="56" fill="url(#gB)"/><rect x="1503.2" y="52.3" width="6.4" height="56" fill="url(#gTh)"/><rect x="1505.3" y="52.3" width="2.2" height="56" fill="url(#gT)"/><rect x="1507.5" y="281.6" width="6.4" height="56" fill="url(#gBh)"/><rect x="1509.6" y="281.6" width="2.2" height="56" fill="url(#gB)"/><rect x="1511.8" y="52.3" width="6.4" height="56" fill="url(#gTh)"/><rect x="1513.9" y="52.3" width="2.2" height="56" fill="url(#gT)"/><rect x="1516" y="281.6" width="6.4" height="56" fill="url(#gBh)"/><rect x="1518.1" y="281.6" width="2.2" height="56" fill="url(#gB)"/><rect x="1520.3" y="52.3" width="6.4" height="56" fill="url(#gTh)"/><rect x="1522.4" y="52.3" width="2.2" height="56" fill="url(#gT)"/><rect x="1524.5" y="281.6" width="6.4" height="56" fill="url(#gBh)"/><rect x="1526.6" y="281.6" width="2.2" height="56" fill="url(#gB)"/><rect x="1528.8" y="52.3" width="6.4" height="56" fill="url(#gTh)"/><rect x="1530.9" y="52.3" width="2.2" height="56" fill="url(#gT)"/><rect x="1533" y="281.6" width="6.4" height="56" fill="url(#gBh)"/><rect x="1535.1" y="281.6" width="2.2" height="56" fill="url(#gB)"/><rect x="1537.3" y="52.3" width="6.4" height="56" fill="url(#gTh)"/><rect x="1539.4" y="52.3" width="2.2" height="56" fill="url(#gT)"/><rect x="1541.5" y="281.6" width="6.4" height="56" fill="url(#gBh)"/><rect x="1543.6" y="281.6" width="2.2" height="56" fill="url(#gB)"/><rect x="1545.8" y="52.3" width="6.4" height="56" fill="url(#gTh)"/><rect x="1547.9" y="52.3" width="2.2" height="56" fill="url(#gT)"/><rect x="1550" y="281.6" width="6.4" height="56" fill="url(#gBh)"/><rect x="1552.1" y="281.6" width="2.2" height="56" fill="url(#gB)"/><rect x="1554.3" y="52.3" width="6.4" height="56" fill="url(#gTh)"/><rect x="1556.4" y="52.3" width="2.2" height="56" fill="url(#gT)"/><rect x="1558.6" y="281.6" width="6.4" height="56" fill="url(#gBh)"/><rect x="1560.7" y="281.6" width="2.2" height="56" fill="url(#gB)"/><rect x="1562.8" y="64.5" width="6.4" height="56" fill="url(#gTh)"/><rect x="1564.9" y="64.5" width="2.2" height="56" fill="url(#gT)"/><rect x="1567.1" y="267" width="6.4" height="56" fill="url(#gBh)"/><rect x="1569.2" y="267" width="2.2" height="56" fill="url(#gB)"/><rect x="1571.3" y="64.5" width="6.4" height="56" fill="url(#gTh)"/><rect x="1573.4" y="64.5" width="2.2" height="56" fill="url(#gT)"/><rect x="1575.6" y="267" width="6.4" height="56" fill="url(#gBh)"/><rect x="1577.7" y="267" width="2.2" height="56" fill="url(#gB)"/><rect x="1579.8" y="64.5" width="6.4" height="56" fill="url(#gTh)"/><rect x="1581.9" y="64.5" width="2.2" height="56" fill="url(#gT)"/><rect x="1584.1" y="267" width="6.4" height="56" fill="url(#gBh)"/><rect x="1586.2" y="267" width="2.2" height="56" fill="url(#gB)"/><rect x="1588.3" y="64.5" width="6.4" height="56" fill="url(#gTh)"/><rect x="1590.4" y="64.5" width="2.2" height="56" fill="url(#gT)"/><rect x="1592.6" y="267" width="6.4" height="56" fill="url(#gBh)"/><rect x="1594.7" y="267" width="2.2" height="56" fill="url(#gB)"/><rect x="1596.8" y="64.5" width="6.4" height="56" fill="url(#gTh)"/><rect x="1599" y="64.5" width="2.2" height="56" fill="url(#gT)"/><rect x="1601.1" y="267" width="6.4" height="56" fill="url(#gBh)"/><rect x="1603.2" y="267" width="2.2" height="56" fill="url(#gB)"/><rect x="1605.4" y="64.5" width="6.4" height="56" fill="url(#gTh)"/><rect x="1607.5" y="64.5" width="2.2" height="56" fill="url(#gT)"/><rect x="1609.6" y="267" width="6.4" height="56" fill="url(#gBh)"/><rect x="1611.7" y="267" width="2.2" height="56" fill="url(#gB)"/><rect x="1613.9" y="64.5" width="6.4" height="56" fill="url(#gTh)"/><rect x="1616" y="64.5" width="2.2" height="56" fill="url(#gT)"/><rect x="1618.1" y="267" width="6.4" height="56" fill="url(#gBh)"/><rect x="1620.2" y="267" width="2.2" height="56" fill="url(#gB)"/><rect x="1622.4" y="64.5" width="6.4" height="56" fill="url(#gTh)"/><rect x="1624.5" y="64.5" width="2.2" height="56" fill="url(#gT)"/><rect x="1626.6" y="267" width="6.4" height="56" fill="url(#gBh)"/><rect x="1628.7" y="267" width="2.2" height="56" fill="url(#gB)"/><rect x="1630.9" y="64.5" width="6.4" height="56" fill="url(#gTh)"/><rect x="1633" y="64.5" width="2.2" height="56" fill="url(#gT)"/><rect x="1635.1" y="267" width="6.4" height="56" fill="url(#gBh)"/><rect x="1637.2" y="267" width="2.2" height="56" fill="url(#gB)"/><rect x="1639.4" y="64.5" width="6.4" height="56" fill="url(#gTh)"/><rect x="1641.5" y="64.5" width="2.2" height="56" fill="url(#gT)"/><rect x="1643.7" y="267" width="6.4" height="56" fill="url(#gBh)"/><rect x="1645.8" y="267" width="2.2" height="56" fill="url(#gB)"/><rect x="1647.9" y="64.5" width="6.4" height="56" fill="url(#gTh)"/><rect x="1650" y="64.5" width="2.2" height="56" fill="url(#gT)"/><rect x="1652.2" y="267" width="6.4" height="56" fill="url(#gBh)"/><rect x="1654.3" y="267" width="2.2" height="56" fill="url(#gB)"/><rect x="1656.4" y="64.5" width="6.4" height="56" fill="url(#gTh)"/><rect x="1658.5" y="64.5" width="2.2" height="56" fill="url(#gT)"/><rect x="1660.7" y="267" width="6.4" height="56" fill="url(#gBh)"/><rect x="1662.8" y="267" width="2.2" height="56" fill="url(#gB)"/><rect x="1664.9" y="64.5" width="6.4" height="56" fill="url(#gTh)"/><rect x="1667" y="64.5" width="2.2" height="56" fill="url(#gT)"/><rect x="1669.2" y="267" width="6.4" height="56" fill="url(#gBh)"/><rect x="1671.3" y="267" width="2.2" height="56" fill="url(#gB)"/><rect x="1673.4" y="64.5" width="6.4" height="56" fill="url(#gTh)"/><rect x="1675.5" y="64.5" width="2.2" height="56" fill="url(#gT)"/><rect x="1677.7" y="267" width="6.4" height="56" fill="url(#gBh)"/><rect x="1679.8" y="267" width="2.2" height="56" fill="url(#gB)"/><rect x="1682" y="64.5" width="6.4" height="56" fill="url(#gTh)"/><rect x="1684.1" y="64.5" width="2.2" height="56" fill="url(#gT)"/><rect x="1686.2" y="267" width="6.4" height="56" fill="url(#gBh)"/><rect x="1688.3" y="267" width="2.2" height="56" fill="url(#gB)"/><rect x="1690.5" y="64.5" width="6.4" height="56" fill="url(#gTh)"/><rect x="1692.6" y="64.5" width="2.2" height="56" fill="url(#gT)"/><rect x="1694.7" y="267" width="6.4" height="56" fill="url(#gBh)"/><rect x="1696.8" y="267" width="2.2" height="56" fill="url(#gB)"/><rect x="1699" y="64.5" width="6.4" height="56" fill="url(#gTh)"/><rect x="1701.1" y="64.5" width="2.2" height="56" fill="url(#gT)"/><rect x="1703.2" y="267" width="6.4" height="56" fill="url(#gBh)"/><rect x="1705.3" y="267" width="2.2" height="56" fill="url(#gB)"/><rect x="1707.5" y="64.5" width="6.4" height="56" fill="url(#gTh)"/><rect x="1709.6" y="64.5" width="2.2" height="56" fill="url(#gT)"/><rect x="1711.7" y="267" width="6.4" height="56" fill="url(#gBh)"/><rect x="1713.8" y="267" width="2.2" height="56" fill="url(#gB)"/><rect x="1716" y="64.5" width="6.4" height="56" fill="url(#gTh)"/><rect x="1718.1" y="64.5" width="2.2" height="56" fill="url(#gT)"/><rect x="1720.2" y="267" width="6.4" height="56" fill="url(#gBh)"/><rect x="1722.3" y="267" width="2.2" height="56" fill="url(#gB)"/><rect x="1724.5" y="64.5" width="6.4" height="56" fill="url(#gTh)"/><rect x="1726.6" y="64.5" width="2.2" height="56" fill="url(#gT)"/><rect x="1728.8" y="267" width="6.4" height="56" fill="url(#gBh)"/><rect x="1730.9" y="267" width="2.2" height="56" fill="url(#gB)"/><rect x="1733" y="64.5" width="6.4" height="56" fill="url(#gTh)"/><rect x="1735.1" y="64.5" width="2.2" height="56" fill="url(#gT)"/><rect x="1737.3" y="267" width="6.4" height="56" fill="url(#gBh)"/><rect x="1739.4" y="267" width="2.2" height="56" fill="url(#gB)"/><rect x="1741.5" y="64.5" width="6.4" height="56" fill="url(#gTh)"/><rect x="1743.6" y="64.5" width="2.2" height="56" fill="url(#gT)"/><rect x="1745.8" y="267" width="6.4" height="56" fill="url(#gBh)"/><rect x="1747.9" y="267" width="2.2" height="56" fill="url(#gB)"/><rect x="1750" y="64.5" width="6.4" height="56" fill="url(#gTh)"/><rect x="1752.1" y="64.5" width="2.2" height="56" fill="url(#gT)"/><rect x="1754.3" y="267" width="6.4" height="56" fill="url(#gBh)"/><rect x="1756.4" y="267" width="2.2" height="56" fill="url(#gB)"/><rect x="1758.5" y="64.5" width="6.4" height="56" fill="url(#gTh)"/><rect x="1760.6" y="64.5" width="2.2" height="56" fill="url(#gT)"/><rect x="1762.8" y="267" width="6.4" height="56" fill="url(#gBh)"/><rect x="1764.9" y="267" width="2.2" height="56" fill="url(#gB)"/></g>
<polygon points="213.5,552.4 434,552.4 436,557.7 464,562.5 644,562.5 648,557.7 680,555 705,552.4 858,552.4 858,827.2 684,827.2 645,822 641,815.9 483,815.9 432,821.9 430,827.2 213.5,827.2" fill="#b9b9b9"/>
<polygon points="213.5,552.4 434,552.4 436,557.7 464,562.5 644,562.5 648,557.7 680,555 705,552.4 858,552.4 858,555.9 705,555.9 680,558.5 648,561.2 644,566 464,566 436,561.2 434,555.9 213.5,555.9" fill="#c4c4c4"/>
<polygon points="213.5,827.2 430,827.2 432,821.9 483,815.9 641,815.9 645,822 684,827.2 858,827.2 858,823.7 684,823.7 645,818.5 641,812.4 483,812.4 432,818.4 430,823.7 213.5,823.7" fill="#d4d4d4"/>
<g filter="url(#sb)"><rect x="213.3" y="552.4" width="6.4" height="56" fill="url(#gTh)"/><rect x="215.4" y="552.4" width="2.2" height="56" fill="url(#gT)"/><rect x="217.6" y="771.2" width="6.4" height="56" fill="url(#gBh)"/><rect x="219.7" y="771.2" width="2.2" height="56" fill="url(#gB)"/><rect x="221.8" y="552.4" width="6.4" height="56" fill="url(#gTh)"/><rect x="223.9" y="552.4" width="2.2" height="56" fill="url(#gT)"/><rect x="226.1" y="771.2" width="6.4" height="56" fill="url(#gBh)"/><rect x="228.2" y="771.2" width="2.2" height="56" fill="url(#gB)"/><rect x="230.3" y="552.4" width="6.4" height="56" fill="url(#gTh)"/><rect x="232.4" y="552.4" width="2.2" height="56" fill="url(#gT)"/><rect x="234.6" y="771.2" width="6.4" height="56" fill="url(#gBh)"/><rect x="236.7" y="771.2" width="2.2" height="56" fill="url(#gB)"/><rect x="238.8" y="552.4" width="6.4" height="56" fill="url(#gTh)"/><rect x="240.9" y="552.4" width="2.2" height="56" fill="url(#gT)"/><rect x="243.1" y="771.2" width="6.4" height="56" fill="url(#gBh)"/><rect x="245.2" y="771.2" width="2.2" height="56" fill="url(#gB)"/><rect x="247.3" y="552.4" width="6.4" height="56" fill="url(#gTh)"/><rect x="249.4" y="552.4" width="2.2" height="56" fill="url(#gT)"/><rect x="251.6" y="771.2" width="6.4" height="56" fill="url(#gBh)"/><rect x="253.7" y="771.2" width="2.2" height="56" fill="url(#gB)"/><rect x="255.9" y="552.4" width="6.4" height="56" fill="url(#gTh)"/><rect x="257.9" y="552.4" width="2.2" height="56" fill="url(#gT)"/><rect x="260.1" y="771.2" width="6.4" height="56" fill="url(#gBh)"/><rect x="262.2" y="771.2" width="2.2" height="56" fill="url(#gB)"/><rect x="264.4" y="552.4" width="6.4" height="56" fill="url(#gTh)"/><rect x="266.5" y="552.4" width="2.2" height="56" fill="url(#gT)"/><rect x="268.6" y="771.2" width="6.4" height="56" fill="url(#gBh)"/><rect x="270.7" y="771.2" width="2.2" height="56" fill="url(#gB)"/><rect x="272.9" y="552.4" width="6.4" height="56" fill="url(#gTh)"/><rect x="275" y="552.4" width="2.2" height="56" fill="url(#gT)"/><rect x="277.1" y="771.2" width="6.4" height="56" fill="url(#gBh)"/><rect x="279.2" y="771.2" width="2.2" height="56" fill="url(#gB)"/><rect x="281.4" y="552.4" width="6.4" height="56" fill="url(#gTh)"/><rect x="283.5" y="552.4" width="2.2" height="56" fill="url(#gT)"/><rect x="285.6" y="771.2" width="6.4" height="56" fill="url(#gBh)"/><rect x="287.7" y="771.2" width="2.2" height="56" fill="url(#gB)"/><rect x="289.9" y="552.4" width="6.4" height="56" fill="url(#gTh)"/><rect x="292" y="552.4" width="2.2" height="56" fill="url(#gT)"/><rect x="294.1" y="771.2" width="6.4" height="56" fill="url(#gBh)"/><rect x="296.2" y="771.2" width="2.2" height="56" fill="url(#gB)"/><rect x="298.4" y="552.4" width="6.4" height="56" fill="url(#gTh)"/><rect x="300.5" y="552.4" width="2.2" height="56" fill="url(#gT)"/><rect x="302.7" y="771.2" width="6.4" height="56" fill="url(#gBh)"/><rect x="304.8" y="771.2" width="2.2" height="56" fill="url(#gB)"/><rect x="306.9" y="552.4" width="6.4" height="56" fill="url(#gTh)"/><rect x="309" y="552.4" width="2.2" height="56" fill="url(#gT)"/><rect x="311.2" y="771.2" width="6.4" height="56" fill="url(#gBh)"/><rect x="313.3" y="771.2" width="2.2" height="56" fill="url(#gB)"/><rect x="315.4" y="552.4" width="6.4" height="56" fill="url(#gTh)"/><rect x="317.5" y="552.4" width="2.2" height="56" fill="url(#gT)"/><rect x="319.7" y="771.2" width="6.4" height="56" fill="url(#gBh)"/><rect x="321.8" y="771.2" width="2.2" height="56" fill="url(#gB)"/><rect x="323.9" y="552.4" width="6.4" height="56" fill="url(#gTh)"/><rect x="326" y="552.4" width="2.2" height="56" fill="url(#gT)"/><rect x="328.2" y="771.2" width="6.4" height="56" fill="url(#gBh)"/><rect x="330.3" y="771.2" width="2.2" height="56" fill="url(#gB)"/><rect x="332.4" y="552.4" width="6.4" height="56" fill="url(#gTh)"/><rect x="334.5" y="552.4" width="2.2" height="56" fill="url(#gT)"/><rect x="336.7" y="771.2" width="6.4" height="56" fill="url(#gBh)"/><rect x="338.8" y="771.2" width="2.2" height="56" fill="url(#gB)"/><rect x="340.9" y="552.4" width="6.4" height="56" fill="url(#gTh)"/><rect x="343" y="552.4" width="2.2" height="56" fill="url(#gT)"/><rect x="345.2" y="771.2" width="6.4" height="56" fill="url(#gBh)"/><rect x="347.3" y="771.2" width="2.2" height="56" fill="url(#gB)"/><rect x="349.5" y="552.4" width="6.4" height="56" fill="url(#gTh)"/><rect x="351.6" y="552.4" width="2.2" height="56" fill="url(#gT)"/><rect x="353.7" y="771.2" width="6.4" height="56" fill="url(#gBh)"/><rect x="355.8" y="771.2" width="2.2" height="56" fill="url(#gB)"/><rect x="358" y="552.4" width="6.4" height="56" fill="url(#gTh)"/><rect x="360.1" y="552.4" width="2.2" height="56" fill="url(#gT)"/><rect x="362.2" y="771.2" width="6.4" height="56" fill="url(#gBh)"/><rect x="364.3" y="771.2" width="2.2" height="56" fill="url(#gB)"/><rect x="366.5" y="552.4" width="6.4" height="56" fill="url(#gTh)"/><rect x="368.6" y="552.4" width="2.2" height="56" fill="url(#gT)"/><rect x="370.7" y="771.2" width="6.4" height="56" fill="url(#gBh)"/><rect x="372.8" y="771.2" width="2.2" height="56" fill="url(#gB)"/><rect x="375" y="552.4" width="6.4" height="56" fill="url(#gTh)"/><rect x="377.1" y="552.4" width="2.2" height="56" fill="url(#gT)"/><rect x="379.2" y="771.2" width="6.4" height="56" fill="url(#gBh)"/><rect x="381.3" y="771.2" width="2.2" height="56" fill="url(#gB)"/><rect x="383.5" y="552.4" width="6.4" height="56" fill="url(#gTh)"/><rect x="385.6" y="552.4" width="2.2" height="56" fill="url(#gT)"/><rect x="387.8" y="771.2" width="6.4" height="56" fill="url(#gBh)"/><rect x="389.9" y="771.2" width="2.2" height="56" fill="url(#gB)"/><rect x="392" y="552.4" width="6.4" height="56" fill="url(#gTh)"/><rect x="394.1" y="552.4" width="2.2" height="56" fill="url(#gT)"/><rect x="396.3" y="771.2" width="6.4" height="56" fill="url(#gBh)"/><rect x="398.4" y="771.2" width="2.2" height="56" fill="url(#gB)"/><rect x="400.5" y="552.4" width="6.4" height="56" fill="url(#gTh)"/><rect x="402.6" y="552.4" width="2.2" height="56" fill="url(#gT)"/><rect x="404.8" y="771.2" width="6.4" height="56" fill="url(#gBh)"/><rect x="406.9" y="771.2" width="2.2" height="56" fill="url(#gB)"/><rect x="409" y="552.4" width="6.4" height="56" fill="url(#gTh)"/><rect x="411.1" y="552.4" width="2.2" height="56" fill="url(#gT)"/><rect x="413.3" y="771.2" width="6.4" height="56" fill="url(#gBh)"/><rect x="415.4" y="771.2" width="2.2" height="56" fill="url(#gB)"/><rect x="417.5" y="552.4" width="6.4" height="56" fill="url(#gTh)"/><rect x="419.6" y="552.4" width="2.2" height="56" fill="url(#gT)"/><rect x="421.8" y="771.2" width="6.4" height="56" fill="url(#gBh)"/><rect x="423.9" y="771.2" width="2.2" height="56" fill="url(#gB)"/><rect x="426.1" y="552.4" width="6.4" height="56" fill="url(#gTh)"/><rect x="428.1" y="552.4" width="2.2" height="56" fill="url(#gT)"/><rect x="430.3" y="771.2" width="6.4" height="56" fill="url(#gBh)"/><rect x="432.4" y="771.2" width="2.2" height="56" fill="url(#gB)"/><rect x="434.6" y="558" width="6.4" height="56" fill="url(#gTh)"/><rect x="436.7" y="558" width="2.2" height="56" fill="url(#gT)"/><rect x="438.8" y="765.2" width="6.4" height="56" fill="url(#gBh)"/><rect x="440.9" y="765.2" width="2.2" height="56" fill="url(#gB)"/><rect x="443.1" y="559.5" width="6.4" height="56" fill="url(#gTh)"/><rect x="445.2" y="559.5" width="2.2" height="56" fill="url(#gT)"/><rect x="447.3" y="764.2" width="6.4" height="56" fill="url(#gBh)"/><rect x="449.4" y="764.2" width="2.2" height="56" fill="url(#gB)"/><rect x="451.6" y="560.9" width="6.4" height="56" fill="url(#gTh)"/><rect x="453.7" y="560.9" width="2.2" height="56" fill="url(#gT)"/><rect x="455.8" y="763.2" width="6.4" height="56" fill="url(#gBh)"/><rect x="457.9" y="763.2" width="2.2" height="56" fill="url(#gB)"/><rect x="460.1" y="562.4" width="6.4" height="56" fill="url(#gTh)"/><rect x="462.2" y="562.4" width="2.2" height="56" fill="url(#gT)"/><rect x="464.3" y="762.2" width="6.4" height="56" fill="url(#gBh)"/><rect x="466.4" y="762.2" width="2.2" height="56" fill="url(#gB)"/><rect x="468.6" y="562.5" width="6.4" height="56" fill="url(#gTh)"/><rect x="470.7" y="562.5" width="2.2" height="56" fill="url(#gT)"/><rect x="472.9" y="761.2" width="6.4" height="56" fill="url(#gBh)"/><rect x="475" y="761.2" width="2.2" height="56" fill="url(#gB)"/><rect x="477.1" y="562.5" width="6.4" height="56" fill="url(#gTh)"/><rect x="479.2" y="562.5" width="2.2" height="56" fill="url(#gT)"/><rect x="481.4" y="760.2" width="6.4" height="56" fill="url(#gBh)"/><rect x="483.5" y="760.2" width="2.2" height="56" fill="url(#gB)"/><rect x="485.6" y="562.5" width="6.4" height="56" fill="url(#gTh)"/><rect x="487.7" y="562.5" width="2.2" height="56" fill="url(#gT)"/><rect x="489.9" y="759.9" width="6.4" height="56" fill="url(#gBh)"/><rect x="492" y="759.9" width="2.2" height="56" fill="url(#gB)"/><rect x="494.1" y="562.5" width="6.4" height="56" fill="url(#gTh)"/><rect x="496.2" y="562.5" width="2.2" height="56" fill="url(#gT)"/><rect x="498.4" y="759.9" width="6.4" height="56" fill="url(#gBh)"/><rect x="500.5" y="759.9" width="2.2" height="56" fill="url(#gB)"/><rect x="502.6" y="562.5" width="6.4" height="56" fill="url(#gTh)"/><rect x="504.7" y="562.5" width="2.2" height="56" fill="url(#gT)"/><rect x="506.9" y="759.9" width="6.4" height="56" fill="url(#gBh)"/><rect x="509" y="759.9" width="2.2" height="56" fill="url(#gB)"/><rect x="511.1" y="562.5" width="6.4" height="56" fill="url(#gTh)"/><rect x="513.2" y="562.5" width="2.2" height="56" fill="url(#gT)"/><rect x="515.4" y="759.9" width="6.4" height="56" fill="url(#gBh)"/><rect x="517.5" y="759.9" width="2.2" height="56" fill="url(#gB)"/><rect x="519.7" y="562.5" width="6.4" height="56" fill="url(#gTh)"/><rect x="521.8" y="562.5" width="2.2" height="56" fill="url(#gT)"/><rect x="523.9" y="759.9" width="6.4" height="56" fill="url(#gBh)"/><rect x="526" y="759.9" width="2.2" height="56" fill="url(#gB)"/><rect x="528.2" y="562.5" width="6.4" height="56" fill="url(#gTh)"/><rect x="530.3" y="562.5" width="2.2" height="56" fill="url(#gT)"/><rect x="532.4" y="759.9" width="6.4" height="56" fill="url(#gBh)"/><rect x="534.5" y="759.9" width="2.2" height="56" fill="url(#gB)"/><rect x="536.7" y="562.5" width="6.4" height="56" fill="url(#gTh)"/><rect x="538.8" y="562.5" width="2.2" height="56" fill="url(#gT)"/><rect x="540.9" y="759.9" width="6.4" height="56" fill="url(#gBh)"/><rect x="543" y="759.9" width="2.2" height="56" fill="url(#gB)"/><rect x="545.2" y="562.5" width="6.4" height="56" fill="url(#gTh)"/><rect x="547.3" y="562.5" width="2.2" height="56" fill="url(#gT)"/><rect x="549.4" y="759.9" width="6.4" height="56" fill="url(#gBh)"/><rect x="551.5" y="759.9" width="2.2" height="56" fill="url(#gB)"/><rect x="553.7" y="562.5" width="6.4" height="56" fill="url(#gTh)"/><rect x="555.8" y="562.5" width="2.2" height="56" fill="url(#gT)"/><rect x="558" y="759.9" width="6.4" height="56" fill="url(#gBh)"/><rect x="560.1" y="759.9" width="2.2" height="56" fill="url(#gB)"/><rect x="562.2" y="562.5" width="6.4" height="56" fill="url(#gTh)"/><rect x="564.3" y="562.5" width="2.2" height="56" fill="url(#gT)"/><rect x="566.5" y="759.9" width="6.4" height="56" fill="url(#gBh)"/><rect x="568.6" y="759.9" width="2.2" height="56" fill="url(#gB)"/><rect x="570.7" y="562.5" width="6.4" height="56" fill="url(#gTh)"/><rect x="572.8" y="562.5" width="2.2" height="56" fill="url(#gT)"/><rect x="575" y="759.9" width="6.4" height="56" fill="url(#gBh)"/><rect x="577.1" y="759.9" width="2.2" height="56" fill="url(#gB)"/><rect x="579.2" y="562.5" width="6.4" height="56" fill="url(#gTh)"/><rect x="581.3" y="562.5" width="2.2" height="56" fill="url(#gT)"/><rect x="583.5" y="759.9" width="6.4" height="56" fill="url(#gBh)"/><rect x="585.6" y="759.9" width="2.2" height="56" fill="url(#gB)"/><rect x="587.7" y="562.5" width="6.4" height="56" fill="url(#gTh)"/><rect x="589.8" y="562.5" width="2.2" height="56" fill="url(#gT)"/><rect x="592" y="759.9" width="6.4" height="56" fill="url(#gBh)"/><rect x="594.1" y="759.9" width="2.2" height="56" fill="url(#gB)"/><rect x="596.2" y="562.5" width="6.4" height="56" fill="url(#gTh)"/><rect x="598.4" y="562.5" width="2.2" height="56" fill="url(#gT)"/><rect x="600.5" y="759.9" width="6.4" height="56" fill="url(#gBh)"/><rect x="602.6" y="759.9" width="2.2" height="56" fill="url(#gB)"/><rect x="604.8" y="562.5" width="6.4" height="56" fill="url(#gTh)"/><rect x="606.9" y="562.5" width="2.2" height="56" fill="url(#gT)"/><rect x="609" y="759.9" width="6.4" height="56" fill="url(#gBh)"/><rect x="611.1" y="759.9" width="2.2" height="56" fill="url(#gB)"/><rect x="613.3" y="562.5" width="6.4" height="56" fill="url(#gTh)"/><rect x="615.4" y="562.5" width="2.2" height="56" fill="url(#gT)"/><rect x="617.5" y="759.9" width="6.4" height="56" fill="url(#gBh)"/><rect x="619.6" y="759.9" width="2.2" height="56" fill="url(#gB)"/><rect x="621.8" y="562.5" width="6.4" height="56" fill="url(#gTh)"/><rect x="623.9" y="562.5" width="2.2" height="56" fill="url(#gT)"/><rect x="626" y="759.9" width="6.4" height="56" fill="url(#gBh)"/><rect x="628.1" y="759.9" width="2.2" height="56" fill="url(#gB)"/><rect x="630.3" y="562.5" width="6.4" height="56" fill="url(#gTh)"/><rect x="632.4" y="562.5" width="2.2" height="56" fill="url(#gT)"/><rect x="634.5" y="759.9" width="6.4" height="56" fill="url(#gBh)"/><rect x="636.6" y="759.9" width="2.2" height="56" fill="url(#gB)"/><rect x="638.8" y="562.5" width="6.4" height="56" fill="url(#gTh)"/><rect x="640.9" y="562.5" width="2.2" height="56" fill="url(#gT)"/><rect x="643.1" y="761.4" width="6.4" height="56" fill="url(#gBh)"/><rect x="645.2" y="761.4" width="2.2" height="56" fill="url(#gB)"/><rect x="647.3" y="557.5" width="6.4" height="56" fill="url(#gTh)"/><rect x="649.4" y="557.5" width="2.2" height="56" fill="url(#gT)"/><rect x="651.6" y="766.7" width="6.4" height="56" fill="url(#gBh)"/><rect x="653.7" y="766.7" width="2.2" height="56" fill="url(#gB)"/><rect x="655.8" y="556.8" width="6.4" height="56" fill="url(#gTh)"/><rect x="657.9" y="556.8" width="2.2" height="56" fill="url(#gT)"/><rect x="660.1" y="767.9" width="6.4" height="56" fill="url(#gBh)"/><rect x="662.2" y="767.9" width="2.2" height="56" fill="url(#gB)"/><rect x="664.3" y="556.1" width="6.4" height="56" fill="url(#gTh)"/><rect x="666.4" y="556.1" width="2.2" height="56" fill="url(#gT)"/><rect x="668.6" y="769" width="6.4" height="56" fill="url(#gBh)"/><rect x="670.7" y="769" width="2.2" height="56" fill="url(#gB)"/><rect x="672.8" y="555.3" width="6.4" height="56" fill="url(#gTh)"/><rect x="674.9" y="555.3" width="2.2" height="56" fill="url(#gT)"/><rect x="677.1" y="770.1" width="6.4" height="56" fill="url(#gBh)"/><rect x="679.2" y="770.1" width="2.2" height="56" fill="url(#gB)"/><rect x="681.3" y="554.5" width="6.4" height="56" fill="url(#gTh)"/><rect x="683.4" y="554.5" width="2.2" height="56" fill="url(#gT)"/><rect x="685.6" y="771.2" width="6.4" height="56" fill="url(#gBh)"/><rect x="687.7" y="771.2" width="2.2" height="56" fill="url(#gB)"/><rect x="689.9" y="553.6" width="6.4" height="56" fill="url(#gTh)"/><rect x="692" y="553.6" width="2.2" height="56" fill="url(#gT)"/><rect x="694.1" y="771.2" width="6.4" height="56" fill="url(#gBh)"/><rect x="696.2" y="771.2" width="2.2" height="56" fill="url(#gB)"/><rect x="698.4" y="552.8" width="6.4" height="56" fill="url(#gTh)"/><rect x="700.5" y="552.8" width="2.2" height="56" fill="url(#gT)"/><rect x="702.6" y="771.2" width="6.4" height="56" fill="url(#gBh)"/><rect x="704.7" y="771.2" width="2.2" height="56" fill="url(#gB)"/><rect x="706.9" y="552.4" width="6.4" height="56" fill="url(#gTh)"/><rect x="709" y="552.4" width="2.2" height="56" fill="url(#gT)"/><rect x="711.1" y="771.2" width="6.4" height="56" fill="url(#gBh)"/><rect x="713.2" y="771.2" width="2.2" height="56" fill="url(#gB)"/><rect x="715.4" y="552.4" width="6.4" height="56" fill="url(#gTh)"/><rect x="717.5" y="552.4" width="2.2" height="56" fill="url(#gT)"/><rect x="719.6" y="771.2" width="6.4" height="56" fill="url(#gBh)"/><rect x="721.7" y="771.2" width="2.2" height="56" fill="url(#gB)"/><rect x="723.9" y="552.4" width="6.4" height="56" fill="url(#gTh)"/><rect x="726" y="552.4" width="2.2" height="56" fill="url(#gT)"/><rect x="728.2" y="771.2" width="6.4" height="56" fill="url(#gBh)"/><rect x="730.3" y="771.2" width="2.2" height="56" fill="url(#gB)"/><rect x="732.4" y="552.4" width="6.4" height="56" fill="url(#gTh)"/><rect x="734.5" y="552.4" width="2.2" height="56" fill="url(#gT)"/><rect x="736.7" y="771.2" width="6.4" height="56" fill="url(#gBh)"/><rect x="738.8" y="771.2" width="2.2" height="56" fill="url(#gB)"/><rect x="740.9" y="552.4" width="6.4" height="56" fill="url(#gTh)"/><rect x="743" y="552.4" width="2.2" height="56" fill="url(#gT)"/><rect x="745.2" y="771.2" width="6.4" height="56" fill="url(#gBh)"/><rect x="747.3" y="771.2" width="2.2" height="56" fill="url(#gB)"/><rect x="749.4" y="552.4" width="6.4" height="56" fill="url(#gTh)"/><rect x="751.5" y="552.4" width="2.2" height="56" fill="url(#gT)"/><rect x="753.7" y="771.2" width="6.4" height="56" fill="url(#gBh)"/><rect x="755.8" y="771.2" width="2.2" height="56" fill="url(#gB)"/><rect x="757.9" y="552.4" width="6.4" height="56" fill="url(#gTh)"/><rect x="760" y="552.4" width="2.2" height="56" fill="url(#gT)"/><rect x="762.2" y="771.2" width="6.4" height="56" fill="url(#gBh)"/><rect x="764.3" y="771.2" width="2.2" height="56" fill="url(#gB)"/><rect x="766.4" y="552.4" width="6.4" height="56" fill="url(#gTh)"/><rect x="768.5" y="552.4" width="2.2" height="56" fill="url(#gT)"/><rect x="770.7" y="771.2" width="6.4" height="56" fill="url(#gBh)"/><rect x="772.8" y="771.2" width="2.2" height="56" fill="url(#gB)"/><rect x="775" y="552.4" width="6.4" height="56" fill="url(#gTh)"/><rect x="777.1" y="552.4" width="2.2" height="56" fill="url(#gT)"/><rect x="779.2" y="771.2" width="6.4" height="56" fill="url(#gBh)"/><rect x="781.3" y="771.2" width="2.2" height="56" fill="url(#gB)"/><rect x="783.5" y="552.4" width="6.4" height="56" fill="url(#gTh)"/><rect x="785.6" y="552.4" width="2.2" height="56" fill="url(#gT)"/><rect x="787.7" y="771.2" width="6.4" height="56" fill="url(#gBh)"/><rect x="789.8" y="771.2" width="2.2" height="56" fill="url(#gB)"/><rect x="792" y="552.4" width="6.4" height="56" fill="url(#gTh)"/><rect x="794.1" y="552.4" width="2.2" height="56" fill="url(#gT)"/><rect x="796.2" y="771.2" width="6.4" height="56" fill="url(#gBh)"/><rect x="798.3" y="771.2" width="2.2" height="56" fill="url(#gB)"/><rect x="800.5" y="552.4" width="6.4" height="56" fill="url(#gTh)"/><rect x="802.6" y="552.4" width="2.2" height="56" fill="url(#gT)"/><rect x="804.7" y="771.2" width="6.4" height="56" fill="url(#gBh)"/><rect x="806.8" y="771.2" width="2.2" height="56" fill="url(#gB)"/><rect x="809" y="552.4" width="6.4" height="56" fill="url(#gTh)"/><rect x="811.1" y="552.4" width="2.2" height="56" fill="url(#gT)"/><rect x="813.3" y="771.2" width="6.4" height="56" fill="url(#gBh)"/><rect x="815.4" y="771.2" width="2.2" height="56" fill="url(#gB)"/><rect x="817.5" y="552.4" width="6.4" height="56" fill="url(#gTh)"/><rect x="819.6" y="552.4" width="2.2" height="56" fill="url(#gT)"/><rect x="821.8" y="771.2" width="6.4" height="56" fill="url(#gBh)"/><rect x="823.9" y="771.2" width="2.2" height="56" fill="url(#gB)"/><rect x="826" y="552.4" width="6.4" height="56" fill="url(#gTh)"/><rect x="828.1" y="552.4" width="2.2" height="56" fill="url(#gT)"/><rect x="830.3" y="771.2" width="6.4" height="56" fill="url(#gBh)"/><rect x="832.4" y="771.2" width="2.2" height="56" fill="url(#gB)"/><rect x="834.5" y="552.4" width="6.4" height="56" fill="url(#gTh)"/><rect x="836.6" y="552.4" width="2.2" height="56" fill="url(#gT)"/><rect x="838.8" y="771.2" width="6.4" height="56" fill="url(#gBh)"/><rect x="840.9" y="771.2" width="2.2" height="56" fill="url(#gB)"/><rect x="843" y="552.4" width="6.4" height="56" fill="url(#gTh)"/><rect x="845.1" y="552.4" width="2.2" height="56" fill="url(#gT)"/><rect x="847.3" y="771.2" width="6.4" height="56" fill="url(#gBh)"/><rect x="849.4" y="771.2" width="2.2" height="56" fill="url(#gB)"/><rect x="851.5" y="552.4" width="6.4" height="56" fill="url(#gTh)"/><rect x="853.6" y="552.4" width="2.2" height="56" fill="url(#gT)"/><rect x="855.8" y="771.2" width="6.4" height="56" fill="url(#gBh)"/><rect x="857.9" y="771.2" width="2.2" height="56" fill="url(#gB)"/></g>
<path d="M1132 526.9V849.3H1772" fill="none" stroke="#0c0c0c" stroke-width="3.4"/>
<path d="M1132 528.6H1150" stroke="#0c0c0c" stroke-width="3.4"/>
<path d="M1345.3 849.3V831.3" stroke="#0c0c0c" stroke-width="3.4"/>
<path d="M1558 849.3V831.3" stroke="#0c0c0c" stroke-width="3.4"/>
<path d="M1770.3 849.3V831.3" stroke="#0c0c0c" stroke-width="3.4"/>
<polygon points="1129,556.4 1344,556.4 1344.5,552.7 1360.5,552.7 1361,548.6 1378,548.6 1379,543.5 1558,543.5 1559.5,552.7 1594,552.7 1595,556.2 1771,556.4 1771,825.8 1586,826 1566,830 1558,830 1557,835.8 1370,835.8 1369,830 1344.5,830 1344,825.8 1129,825.8" fill="#b9b9b9"/>
<polygon points="1129,556.4 1344,556.4 1344.5,552.7 1360.5,552.7 1361,548.6 1378,548.6 1379,543.5 1558,543.5 1559.5,552.7 1594,552.7 1595,556.2 1771,556.4 1771,559.9 1595,559.7 1594,556.2 1559.5,556.2 1558,547 1379,547 1378,552.1 1361,552.1 1360.5,556.2 1344.5,556.2 1344,559.9 1129,559.9" fill="#c4c4c4"/>
<polygon points="1129,825.8 1344,825.8 1344.5,830 1369,830 1370,835.8 1557,835.8 1558,830 1566,830 1586,826 1771,825.8 1771,822.3 1586,822.5 1566,826.5 1558,826.5 1557,832.3 1370,832.3 1369,826.5 1344.5,826.5 1344,822.3 1129,822.3" fill="#d4d4d4"/>
<g filter="url(#sb)"><rect x="1128.8" y="556.4" width="6.4" height="56" fill="url(#gTh)"/><rect x="1130.9" y="556.4" width="2.2" height="56" fill="url(#gT)"/><rect x="1133.1" y="769.8" width="6.4" height="56" fill="url(#gBh)"/><rect x="1135.2" y="769.8" width="2.2" height="56" fill="url(#gB)"/><rect x="1137.3" y="556.4" width="6.4" height="56" fill="url(#gTh)"/><rect x="1139.4" y="556.4" width="2.2" height="56" fill="url(#gT)"/><rect x="1141.6" y="769.8" width="6.4" height="56" fill="url(#gBh)"/><rect x="1143.7" y="769.8" width="2.2" height="56" fill="url(#gB)"/><rect x="1145.8" y="556.4" width="6.4" height="56" fill="url(#gTh)"/><rect x="1147.9" y="556.4" width="2.2" height="56" fill="url(#gT)"/><rect x="1150.1" y="769.8" width="6.4" height="56" fill="url(#gBh)"/><rect x="1152.2" y="769.8" width="2.2" height="56" fill="url(#gB)"/><rect x="1154.3" y="556.4" width="6.4" height="56" fill="url(#gTh)"/><rect x="1156.4" y="556.4" width="2.2" height="56" fill="url(#gT)"/><rect x="1158.6" y="769.8" width="6.4" height="56" fill="url(#gBh)"/><rect x="1160.7" y="769.8" width="2.2" height="56" fill="url(#gB)"/><rect x="1162.8" y="556.4" width="6.4" height="56" fill="url(#gTh)"/><rect x="1164.9" y="556.4" width="2.2" height="56" fill="url(#gT)"/><rect x="1167.1" y="769.8" width="6.4" height="56" fill="url(#gBh)"/><rect x="1169.2" y="769.8" width="2.2" height="56" fill="url(#gB)"/><rect x="1171.3" y="556.4" width="6.4" height="56" fill="url(#gTh)"/><rect x="1173.5" y="556.4" width="2.2" height="56" fill="url(#gT)"/><rect x="1175.6" y="769.8" width="6.4" height="56" fill="url(#gBh)"/><rect x="1177.7" y="769.8" width="2.2" height="56" fill="url(#gB)"/><rect x="1179.9" y="556.4" width="6.4" height="56" fill="url(#gTh)"/><rect x="1182" y="556.4" width="2.2" height="56" fill="url(#gT)"/><rect x="1184.1" y="769.8" width="6.4" height="56" fill="url(#gBh)"/><rect x="1186.2" y="769.8" width="2.2" height="56" fill="url(#gB)"/><rect x="1188.4" y="556.4" width="6.4" height="56" fill="url(#gTh)"/><rect x="1190.5" y="556.4" width="2.2" height="56" fill="url(#gT)"/><rect x="1192.6" y="769.8" width="6.4" height="56" fill="url(#gBh)"/><rect x="1194.7" y="769.8" width="2.2" height="56" fill="url(#gB)"/><rect x="1196.9" y="556.4" width="6.4" height="56" fill="url(#gTh)"/><rect x="1199" y="556.4" width="2.2" height="56" fill="url(#gT)"/><rect x="1201.1" y="769.8" width="6.4" height="56" fill="url(#gBh)"/><rect x="1203.2" y="769.8" width="2.2" height="56" fill="url(#gB)"/><rect x="1205.4" y="556.4" width="6.4" height="56" fill="url(#gTh)"/><rect x="1207.5" y="556.4" width="2.2" height="56" fill="url(#gT)"/><rect x="1209.6" y="769.8" width="6.4" height="56" fill="url(#gBh)"/><rect x="1211.7" y="769.8" width="2.2" height="56" fill="url(#gB)"/><rect x="1213.9" y="556.4" width="6.4" height="56" fill="url(#gTh)"/><rect x="1216" y="556.4" width="2.2" height="56" fill="url(#gT)"/><rect x="1218.2" y="769.8" width="6.4" height="56" fill="url(#gBh)"/><rect x="1220.3" y="769.8" width="2.2" height="56" fill="url(#gB)"/><rect x="1222.4" y="556.4" width="6.4" height="56" fill="url(#gTh)"/><rect x="1224.5" y="556.4" width="2.2" height="56" fill="url(#gT)"/><rect x="1226.7" y="769.8" width="6.4" height="56" fill="url(#gBh)"/><rect x="1228.8" y="769.8" width="2.2" height="56" fill="url(#gB)"/><rect x="1230.9" y="556.4" width="6.4" height="56" fill="url(#gTh)"/><rect x="1233" y="556.4" width="2.2" height="56" fill="url(#gT)"/><rect x="1235.2" y="769.8" width="6.4" height="56" fill="url(#gBh)"/><rect x="1237.3" y="769.8" width="2.2" height="56" fill="url(#gB)"/><rect x="1239.4" y="556.4" width="6.4" height="56" fill="url(#gTh)"/><rect x="1241.5" y="556.4" width="2.2" height="56" fill="url(#gT)"/><rect x="1243.7" y="769.8" width="6.4" height="56" fill="url(#gBh)"/><rect x="1245.8" y="769.8" width="2.2" height="56" fill="url(#gB)"/><rect x="1247.9" y="556.4" width="6.4" height="56" fill="url(#gTh)"/><rect x="1250" y="556.4" width="2.2" height="56" fill="url(#gT)"/><rect x="1252.2" y="769.8" width="6.4" height="56" fill="url(#gBh)"/><rect x="1254.3" y="769.8" width="2.2" height="56" fill="url(#gB)"/><rect x="1256.5" y="556.4" width="6.4" height="56" fill="url(#gTh)"/><rect x="1258.6" y="556.4" width="2.2" height="56" fill="url(#gT)"/><rect x="1260.7" y="769.8" width="6.4" height="56" fill="url(#gBh)"/><rect x="1262.8" y="769.8" width="2.2" height="56" fill="url(#gB)"/><rect x="1265" y="556.4" width="6.4" height="56" fill="url(#gTh)"/><rect x="1267.1" y="556.4" width="2.2" height="56" fill="url(#gT)"/><rect x="1269.2" y="769.8" width="6.4" height="56" fill="url(#gBh)"/><rect x="1271.3" y="769.8" width="2.2" height="56" fill="url(#gB)"/><rect x="1273.5" y="556.4" width="6.4" height="56" fill="url(#gTh)"/><rect x="1275.6" y="556.4" width="2.2" height="56" fill="url(#gT)"/><rect x="1277.7" y="769.8" width="6.4" height="56" fill="url(#gBh)"/><rect x="1279.8" y="769.8" width="2.2" height="56" fill="url(#gB)"/><rect x="1282" y="556.4" width="6.4" height="56" fill="url(#gTh)"/><rect x="1284.1" y="556.4" width="2.2" height="56" fill="url(#gT)"/><rect x="1286.2" y="769.8" width="6.4" height="56" fill="url(#gBh)"/><rect x="1288.3" y="769.8" width="2.2" height="56" fill="url(#gB)"/><rect x="1290.5" y="556.4" width="6.4" height="56" fill="url(#gTh)"/><rect x="1292.6" y="556.4" width="2.2" height="56" fill="url(#gT)"/><rect x="1294.7" y="769.8" width="6.4" height="56" fill="url(#gBh)"/><rect x="1296.8" y="769.8" width="2.2" height="56" fill="url(#gB)"/><rect x="1299" y="556.4" width="6.4" height="56" fill="url(#gTh)"/><rect x="1301.1" y="556.4" width="2.2" height="56" fill="url(#gT)"/><rect x="1303.3" y="769.8" width="6.4" height="56" fill="url(#gBh)"/><rect x="1305.4" y="769.8" width="2.2" height="56" fill="url(#gB)"/><rect x="1307.5" y="556.4" width="6.4" height="56" fill="url(#gTh)"/><rect x="1309.6" y="556.4" width="2.2" height="56" fill="url(#gT)"/><rect x="1311.8" y="769.8" width="6.4" height="56" fill="url(#gBh)"/><rect x="1313.9" y="769.8" width="2.2" height="56" fill="url(#gB)"/><rect x="1316" y="556.4" width="6.4" height="56" fill="url(#gTh)"/><rect x="1318.1" y="556.4" width="2.2" height="56" fill="url(#gT)"/><rect x="1320.3" y="769.8" width="6.4" height="56" fill="url(#gBh)"/><rect x="1322.4" y="769.8" width="2.2" height="56" fill="url(#gB)"/><rect x="1324.5" y="556.4" width="6.4" height="56" fill="url(#gTh)"/><rect x="1326.6" y="556.4" width="2.2" height="56" fill="url(#gT)"/><rect x="1328.8" y="769.8" width="6.4" height="56" fill="url(#gBh)"/><rect x="1330.9" y="769.8" width="2.2" height="56" fill="url(#gB)"/><rect x="1333" y="556.4" width="6.4" height="56" fill="url(#gTh)"/><rect x="1335.1" y="556.4" width="2.2" height="56" fill="url(#gT)"/><rect x="1337.3" y="769.8" width="6.4" height="56" fill="url(#gBh)"/><rect x="1339.4" y="769.8" width="2.2" height="56" fill="url(#gB)"/><rect x="1341.5" y="552.7" width="6.4" height="56" fill="url(#gTh)"/><rect x="1343.7" y="552.7" width="2.2" height="56" fill="url(#gT)"/><rect x="1345.8" y="774" width="6.4" height="56" fill="url(#gBh)"/><rect x="1347.9" y="774" width="2.2" height="56" fill="url(#gB)"/><rect x="1350.1" y="552.7" width="6.4" height="56" fill="url(#gTh)"/><rect x="1352.2" y="552.7" width="2.2" height="56" fill="url(#gT)"/><rect x="1354.3" y="774" width="6.4" height="56" fill="url(#gBh)"/><rect x="1356.4" y="774" width="2.2" height="56" fill="url(#gB)"/><rect x="1358.6" y="548.6" width="6.4" height="56" fill="url(#gTh)"/><rect x="1360.7" y="548.6" width="2.2" height="56" fill="url(#gT)"/><rect x="1362.8" y="774" width="6.4" height="56" fill="url(#gBh)"/><rect x="1364.9" y="774" width="2.2" height="56" fill="url(#gB)"/><rect x="1367.1" y="548.6" width="6.4" height="56" fill="url(#gTh)"/><rect x="1369.2" y="548.6" width="2.2" height="56" fill="url(#gT)"/><rect x="1371.3" y="779.8" width="6.4" height="56" fill="url(#gBh)"/><rect x="1373.4" y="779.8" width="2.2" height="56" fill="url(#gB)"/><rect x="1375.6" y="544.6" width="6.4" height="56" fill="url(#gTh)"/><rect x="1377.7" y="544.6" width="2.2" height="56" fill="url(#gT)"/><rect x="1379.8" y="779.8" width="6.4" height="56" fill="url(#gBh)"/><rect x="1381.9" y="779.8" width="2.2" height="56" fill="url(#gB)"/><rect x="1384.1" y="543.5" width="6.4" height="56" fill="url(#gTh)"/><rect x="1386.2" y="543.5" width="2.2" height="56" fill="url(#gT)"/><rect x="1388.4" y="779.8" width="6.4" height="56" fill="url(#gBh)"/><rect x="1390.5" y="779.8" width="2.2" height="56" fill="url(#gB)"/><rect x="1392.6" y="543.5" width="6.4" height="56" fill="url(#gTh)"/><rect x="1394.7" y="543.5" width="2.2" height="56" fill="url(#gT)"/><rect x="1396.9" y="779.8" width="6.4" height="56" fill="url(#gBh)"/><rect x="1399" y="779.8" width="2.2" height="56" fill="url(#gB)"/><rect x="1401.1" y="543.5" width="6.4" height="56" fill="url(#gTh)"/><rect x="1403.2" y="543.5" width="2.2" height="56" fill="url(#gT)"/><rect x="1405.4" y="779.8" width="6.4" height="56" fill="url(#gBh)"/><rect x="1407.5" y="779.8" width="2.2" height="56" fill="url(#gB)"/><rect x="1409.6" y="543.5" width="6.4" height="56" fill="url(#gTh)"/><rect x="1411.7" y="543.5" width="2.2" height="56" fill="url(#gT)"/><rect x="1413.9" y="779.8" width="6.4" height="56" fill="url(#gBh)"/><rect x="1416" y="779.8" width="2.2" height="56" fill="url(#gB)"/><rect x="1418.1" y="543.5" width="6.4" height="56" fill="url(#gTh)"/><rect x="1420.2" y="543.5" width="2.2" height="56" fill="url(#gT)"/><rect x="1422.4" y="779.8" width="6.4" height="56" fill="url(#gBh)"/><rect x="1424.5" y="779.8" width="2.2" height="56" fill="url(#gB)"/><rect x="1426.6" y="543.5" width="6.4" height="56" fill="url(#gTh)"/><rect x="1428.8" y="543.5" width="2.2" height="56" fill="url(#gT)"/><rect x="1430.9" y="779.8" width="6.4" height="56" fill="url(#gBh)"/><rect x="1433" y="779.8" width="2.2" height="56" fill="url(#gB)"/><rect x="1435.2" y="543.5" width="6.4" height="56" fill="url(#gTh)"/><rect x="1437.3" y="543.5" width="2.2" height="56" fill="url(#gT)"/><rect x="1439.4" y="779.8" width="6.4" height="56" fill="url(#gBh)"/><rect x="1441.5" y="779.8" width="2.2" height="56" fill="url(#gB)"/><rect x="1443.7" y="543.5" width="6.4" height="56" fill="url(#gTh)"/><rect x="1445.8" y="543.5" width="2.2" height="56" fill="url(#gT)"/><rect x="1447.9" y="779.8" width="6.4" height="56" fill="url(#gBh)"/><rect x="1450" y="779.8" width="2.2" height="56" fill="url(#gB)"/><rect x="1452.2" y="543.5" width="6.4" height="56" fill="url(#gTh)"/><rect x="1454.3" y="543.5" width="2.2" height="56" fill="url(#gT)"/><rect x="1456.4" y="779.8" width="6.4" height="56" fill="url(#gBh)"/><rect x="1458.5" y="779.8" width="2.2" height="56" fill="url(#gB)"/><rect x="1460.7" y="543.5" width="6.4" height="56" fill="url(#gTh)"/><rect x="1462.8" y="543.5" width="2.2" height="56" fill="url(#gT)"/><rect x="1464.9" y="779.8" width="6.4" height="56" fill="url(#gBh)"/><rect x="1467" y="779.8" width="2.2" height="56" fill="url(#gB)"/><rect x="1469.2" y="543.5" width="6.4" height="56" fill="url(#gTh)"/><rect x="1471.3" y="543.5" width="2.2" height="56" fill="url(#gT)"/><rect x="1473.5" y="779.8" width="6.4" height="56" fill="url(#gBh)"/><rect x="1475.6" y="779.8" width="2.2" height="56" fill="url(#gB)"/><rect x="1477.7" y="543.5" width="6.4" height="56" fill="url(#gTh)"/><rect x="1479.8" y="543.5" width="2.2" height="56" fill="url(#gT)"/><rect x="1482" y="779.8" width="6.4" height="56" fill="url(#gBh)"/><rect x="1484.1" y="779.8" width="2.2" height="56" fill="url(#gB)"/><rect x="1486.2" y="543.5" width="6.4" height="56" fill="url(#gTh)"/><rect x="1488.3" y="543.5" width="2.2" height="56" fill="url(#gT)"/><rect x="1490.5" y="779.8" width="6.4" height="56" fill="url(#gBh)"/><rect x="1492.6" y="779.8" width="2.2" height="56" fill="url(#gB)"/><rect x="1494.7" y="543.5" width="6.4" height="56" fill="url(#gTh)"/><rect x="1496.8" y="543.5" width="2.2" height="56" fill="url(#gT)"/><rect x="1499" y="779.8" width="6.4" height="56" fill="url(#gBh)"/><rect x="1501.1" y="779.8" width="2.2" height="56" fill="url(#gB)"/><rect x="1503.2" y="543.5" width="6.4" height="56" fill="url(#gTh)"/><rect x="1505.3" y="543.5" width="2.2" height="56" fill="url(#gT)"/><rect x="1507.5" y="779.8" width="6.4" height="56" fill="url(#gBh)"/><rect x="1509.6" y="779.8" width="2.2" height="56" fill="url(#gB)"/><rect x="1511.8" y="543.5" width="6.4" height="56" fill="url(#gTh)"/><rect x="1513.9" y="543.5" width="2.2" height="56" fill="url(#gT)"/><rect x="1516" y="779.8" width="6.4" height="56" fill="url(#gBh)"/><rect x="1518.1" y="779.8" width="2.2" height="56" fill="url(#gB)"/><rect x="1520.3" y="543.5" width="6.4" height="56" fill="url(#gTh)"/><rect x="1522.4" y="543.5" width="2.2" height="56" fill="url(#gT)"/><rect x="1524.5" y="779.8" width="6.4" height="56" fill="url(#gBh)"/><rect x="1526.6" y="779.8" width="2.2" height="56" fill="url(#gB)"/><rect x="1528.8" y="543.5" width="6.4" height="56" fill="url(#gTh)"/><rect x="1530.9" y="543.5" width="2.2" height="56" fill="url(#gT)"/><rect x="1533" y="779.8" width="6.4" height="56" fill="url(#gBh)"/><rect x="1535.1" y="779.8" width="2.2" height="56" fill="url(#gB)"/><rect x="1537.3" y="543.5" width="6.4" height="56" fill="url(#gTh)"/><rect x="1539.4" y="543.5" width="2.2" height="56" fill="url(#gT)"/><rect x="1541.5" y="779.8" width="6.4" height="56" fill="url(#gBh)"/><rect x="1543.6" y="779.8" width="2.2" height="56" fill="url(#gB)"/><rect x="1545.8" y="543.5" width="6.4" height="56" fill="url(#gTh)"/><rect x="1547.9" y="543.5" width="2.2" height="56" fill="url(#gT)"/><rect x="1550" y="779.8" width="6.4" height="56" fill="url(#gBh)"/><rect x="1552.1" y="779.8" width="2.2" height="56" fill="url(#gB)"/><rect x="1554.3" y="543.5" width="6.4" height="56" fill="url(#gTh)"/><rect x="1556.4" y="543.5" width="2.2" height="56" fill="url(#gT)"/><rect x="1558.6" y="776.9" width="6.4" height="56" fill="url(#gBh)"/><rect x="1560.7" y="776.9" width="2.2" height="56" fill="url(#gB)"/><rect x="1562.8" y="552.7" width="6.4" height="56" fill="url(#gTh)"/><rect x="1564.9" y="552.7" width="2.2" height="56" fill="url(#gT)"/><rect x="1567.1" y="774" width="6.4" height="56" fill="url(#gBh)"/><rect x="1569.2" y="774" width="2.2" height="56" fill="url(#gB)"/><rect x="1571.3" y="552.7" width="6.4" height="56" fill="url(#gTh)"/><rect x="1573.4" y="552.7" width="2.2" height="56" fill="url(#gT)"/><rect x="1575.6" y="772.3" width="6.4" height="56" fill="url(#gBh)"/><rect x="1577.7" y="772.3" width="2.2" height="56" fill="url(#gB)"/><rect x="1579.8" y="552.7" width="6.4" height="56" fill="url(#gTh)"/><rect x="1581.9" y="552.7" width="2.2" height="56" fill="url(#gT)"/><rect x="1584.1" y="770.6" width="6.4" height="56" fill="url(#gBh)"/><rect x="1586.2" y="770.6" width="2.2" height="56" fill="url(#gB)"/><rect x="1588.3" y="552.7" width="6.4" height="56" fill="url(#gTh)"/><rect x="1590.4" y="552.7" width="2.2" height="56" fill="url(#gT)"/><rect x="1592.6" y="770" width="6.4" height="56" fill="url(#gBh)"/><rect x="1594.7" y="770" width="2.2" height="56" fill="url(#gB)"/><rect x="1596.8" y="556.2" width="6.4" height="56" fill="url(#gTh)"/><rect x="1599" y="556.2" width="2.2" height="56" fill="url(#gT)"/><rect x="1601.1" y="770" width="6.4" height="56" fill="url(#gBh)"/><rect x="1603.2" y="770" width="2.2" height="56" fill="url(#gB)"/><rect x="1605.4" y="556.2" width="6.4" height="56" fill="url(#gTh)"/><rect x="1607.5" y="556.2" width="2.2" height="56" fill="url(#gT)"/><rect x="1609.6" y="770" width="6.4" height="56" fill="url(#gBh)"/><rect x="1611.7" y="770" width="2.2" height="56" fill="url(#gB)"/><rect x="1613.9" y="556.2" width="6.4" height="56" fill="url(#gTh)"/><rect x="1616" y="556.2" width="2.2" height="56" fill="url(#gT)"/><rect x="1618.1" y="770" width="6.4" height="56" fill="url(#gBh)"/><rect x="1620.2" y="770" width="2.2" height="56" fill="url(#gB)"/><rect x="1622.4" y="556.2" width="6.4" height="56" fill="url(#gTh)"/><rect x="1624.5" y="556.2" width="2.2" height="56" fill="url(#gT)"/><rect x="1626.6" y="770" width="6.4" height="56" fill="url(#gBh)"/><rect x="1628.7" y="770" width="2.2" height="56" fill="url(#gB)"/><rect x="1630.9" y="556.2" width="6.4" height="56" fill="url(#gTh)"/><rect x="1633" y="556.2" width="2.2" height="56" fill="url(#gT)"/><rect x="1635.1" y="769.9" width="6.4" height="56" fill="url(#gBh)"/><rect x="1637.2" y="769.9" width="2.2" height="56" fill="url(#gB)"/><rect x="1639.4" y="556.3" width="6.4" height="56" fill="url(#gTh)"/><rect x="1641.5" y="556.3" width="2.2" height="56" fill="url(#gT)"/><rect x="1643.7" y="769.9" width="6.4" height="56" fill="url(#gBh)"/><rect x="1645.8" y="769.9" width="2.2" height="56" fill="url(#gB)"/><rect x="1647.9" y="556.3" width="6.4" height="56" fill="url(#gTh)"/><rect x="1650" y="556.3" width="2.2" height="56" fill="url(#gT)"/><rect x="1652.2" y="769.9" width="6.4" height="56" fill="url(#gBh)"/><rect x="1654.3" y="769.9" width="2.2" height="56" fill="url(#gB)"/><rect x="1656.4" y="556.3" width="6.4" height="56" fill="url(#gTh)"/><rect x="1658.5" y="556.3" width="2.2" height="56" fill="url(#gT)"/><rect x="1660.7" y="769.9" width="6.4" height="56" fill="url(#gBh)"/><rect x="1662.8" y="769.9" width="2.2" height="56" fill="url(#gB)"/><rect x="1664.9" y="556.3" width="6.4" height="56" fill="url(#gTh)"/><rect x="1667" y="556.3" width="2.2" height="56" fill="url(#gT)"/><rect x="1669.2" y="769.9" width="6.4" height="56" fill="url(#gBh)"/><rect x="1671.3" y="769.9" width="2.2" height="56" fill="url(#gB)"/><rect x="1673.4" y="556.3" width="6.4" height="56" fill="url(#gTh)"/><rect x="1675.5" y="556.3" width="2.2" height="56" fill="url(#gT)"/><rect x="1677.7" y="769.9" width="6.4" height="56" fill="url(#gBh)"/><rect x="1679.8" y="769.9" width="2.2" height="56" fill="url(#gB)"/><rect x="1682" y="556.3" width="6.4" height="56" fill="url(#gTh)"/><rect x="1684.1" y="556.3" width="2.2" height="56" fill="url(#gT)"/><rect x="1686.2" y="769.9" width="6.4" height="56" fill="url(#gBh)"/><rect x="1688.3" y="769.9" width="2.2" height="56" fill="url(#gB)"/><rect x="1690.5" y="556.3" width="6.4" height="56" fill="url(#gTh)"/><rect x="1692.6" y="556.3" width="2.2" height="56" fill="url(#gT)"/><rect x="1694.7" y="769.9" width="6.4" height="56" fill="url(#gBh)"/><rect x="1696.8" y="769.9" width="2.2" height="56" fill="url(#gB)"/><rect x="1699" y="556.3" width="6.4" height="56" fill="url(#gTh)"/><rect x="1701.1" y="556.3" width="2.2" height="56" fill="url(#gT)"/><rect x="1703.2" y="769.9" width="6.4" height="56" fill="url(#gBh)"/><rect x="1705.3" y="769.9" width="2.2" height="56" fill="url(#gB)"/><rect x="1707.5" y="556.3" width="6.4" height="56" fill="url(#gTh)"/><rect x="1709.6" y="556.3" width="2.2" height="56" fill="url(#gT)"/><rect x="1711.7" y="769.9" width="6.4" height="56" fill="url(#gBh)"/><rect x="1713.8" y="769.9" width="2.2" height="56" fill="url(#gB)"/><rect x="1716" y="556.3" width="6.4" height="56" fill="url(#gTh)"/><rect x="1718.1" y="556.3" width="2.2" height="56" fill="url(#gT)"/><rect x="1720.2" y="769.9" width="6.4" height="56" fill="url(#gBh)"/><rect x="1722.3" y="769.9" width="2.2" height="56" fill="url(#gB)"/><rect x="1724.5" y="556.4" width="6.4" height="56" fill="url(#gTh)"/><rect x="1726.6" y="556.4" width="2.2" height="56" fill="url(#gT)"/><rect x="1728.8" y="769.8" width="6.4" height="56" fill="url(#gBh)"/><rect x="1730.9" y="769.8" width="2.2" height="56" fill="url(#gB)"/><rect x="1733" y="556.4" width="6.4" height="56" fill="url(#gTh)"/><rect x="1735.1" y="556.4" width="2.2" height="56" fill="url(#gT)"/><rect x="1737.3" y="769.8" width="6.4" height="56" fill="url(#gBh)"/><rect x="1739.4" y="769.8" width="2.2" height="56" fill="url(#gB)"/><rect x="1741.5" y="556.4" width="6.4" height="56" fill="url(#gTh)"/><rect x="1743.6" y="556.4" width="2.2" height="56" fill="url(#gT)"/><rect x="1745.8" y="769.8" width="6.4" height="56" fill="url(#gBh)"/><rect x="1747.9" y="769.8" width="2.2" height="56" fill="url(#gB)"/><rect x="1750" y="556.4" width="6.4" height="56" fill="url(#gTh)"/><rect x="1752.1" y="556.4" width="2.2" height="56" fill="url(#gT)"/><rect x="1754.3" y="769.8" width="6.4" height="56" fill="url(#gBh)"/><rect x="1756.4" y="769.8" width="2.2" height="56" fill="url(#gB)"/><rect x="1758.5" y="556.4" width="6.4" height="56" fill="url(#gTh)"/><rect x="1760.6" y="556.4" width="2.2" height="56" fill="url(#gT)"/><rect x="1762.8" y="769.8" width="6.4" height="56" fill="url(#gBh)"/><rect x="1764.9" y="769.8" width="2.2" height="56" fill="url(#gB)"/></g>
<rect x="857.4" y="68" width="6.3" height="18" fill="#c8c8c8"/>
<rect x="857.4" y="86" width="6.3" height="106" fill="#f2f2f2"/>
<rect x="856.5" y="192" width="6.3" height="107" fill="#9a9a9a"/>
<rect x="859" y="556.7" width="4.6" height="22.3" fill="#c8c8c8"/>
<rect x="859" y="579" width="4.6" height="100.5" fill="#f2f2f2"/>
<rect x="857" y="679.5" width="6.6" height="122.8" fill="#9a9a9a"/>
<rect x="1769.5" y="52" width="4.5" height="284" fill="#ababab"/>
<rect x="1774" y="68" width="4" height="17" fill="#dcdcdc"/>
<rect x="1769.5" y="192" width="4.5" height="110" fill="#8a8a8a"/>
<rect x="1774" y="192" width="4" height="108" fill="#d6d6d6"/>
<rect x="1768.8" y="542.9" width="3.7" height="293" fill="#ababab"/>
<rect x="1772.5" y="560" width="3.5" height="20" fill="#dcdcdc"/>
<rect x="1768.8" y="680.5" width="3.7" height="124.5" fill="#8c8c8c"/>
<rect x="1772.5" y="680.5" width="3.5" height="124.5" fill="#d6d6d6"/>
<rect x="1126.2" y="52" width="3.8" height="140" fill="#e4e4e4"/>
<rect x="1126.2" y="298.6" width="3.8" height="20.4" fill="#c4c4c4"/>
<rect x="1129" y="542" width="3.4" height="294" fill="#ababab"/>
<rect x="213.5" y="62.4" width="3" height="24" fill="#8c8c8c"/>
<rect x="213.5" y="300" width="3" height="26" fill="#a4a4a4"/>
<rect x="1769" y="1058" width="1.5" height="92" fill="#e2e2e2"/>
<rect x="1769" y="1275" width="1.5" height="35" fill="#e2e2e2"/>
<path d="M216.9 31V354H857" fill="none" stroke="#0c0c0c" stroke-width="3.4"/>
<path d="M216.9 32.7H234.9" stroke="#0c0c0c" stroke-width="3.4"/>
<path d="M216.9 112.1H234.9" stroke="#0c0c0c" stroke-width="3.4"/>
<path d="M216.9 192.6H234.9" stroke="#0c0c0c" stroke-width="3.4"/>
<path d="M216.9 272.5H234.9" stroke="#0c0c0c" stroke-width="3.4"/>
<path d="M430.1 354V336" stroke="#0c0c0c" stroke-width="3.4"/>
<path d="M642.7 354V336" stroke="#0c0c0c" stroke-width="3.4"/>
<path d="M855.3 354V336" stroke="#0c0c0c" stroke-width="3.4"/>
<path d="M1132 31V354H1772" fill="none" stroke="#0c0c0c" stroke-width="3.4"/>
<path d="M1132 32.7H1150" stroke="#0c0c0c" stroke-width="3.4"/>
<path d="M1132 112.1H1150" stroke="#0c0c0c" stroke-width="3.4"/>
<path d="M1132 192.6H1150" stroke="#0c0c0c" stroke-width="3.4"/>
<path d="M1132 272.5H1150" stroke="#0c0c0c" stroke-width="3.4"/>
<path d="M1345.3 354V336" stroke="#0c0c0c" stroke-width="3.4"/>
<path d="M1558 354V336" stroke="#0c0c0c" stroke-width="3.4"/>
<path d="M1770.3 354V336" stroke="#0c0c0c" stroke-width="3.4"/>
<path d="M216.9 526.9V849.3H857" fill="none" stroke="#0c0c0c" stroke-width="3.4"/>
<path d="M216.9 528.6H234.9" stroke="#0c0c0c" stroke-width="3.4"/>
<path d="M216.9 635.4H234.9" stroke="#0c0c0c" stroke-width="3.4"/>
<path d="M216.9 741.8H234.9" stroke="#0c0c0c" stroke-width="3.4"/>
<path d="M430.1 849.3V831.3" stroke="#0c0c0c" stroke-width="3.4"/>
<path d="M642.7 849.3V831.3" stroke="#0c0c0c" stroke-width="3.4"/>
<path d="M855.3 849.3V831.3" stroke="#0c0c0c" stroke-width="3.4"/>
<path d="M216.9 1052.4V1375.2H857" fill="none" stroke="#0c0c0c" stroke-width="3.4"/>
<path d="M216.9 1054.1H234.9" stroke="#0c0c0c" stroke-width="3.4"/>
<path d="M216.9 1311.4H234.9" stroke="#0c0c0c" stroke-width="3.4"/>
<path d="M216.9 1118H220.4" stroke="#0c0c0c" stroke-width="2.4"/>
<path d="M216.9 1182H220.4" stroke="#0c0c0c" stroke-width="2.4"/>
<path d="M216.9 1246H220.4" stroke="#0c0c0c" stroke-width="2.4"/>
<path d="M430.1 1375.2V1357.2" stroke="#0c0c0c" stroke-width="3.4"/>
<path d="M642.7 1375.2V1357.2" stroke="#0c0c0c" stroke-width="3.4"/>
<path d="M855.3 1375.2V1357.2" stroke="#0c0c0c" stroke-width="3.4"/>
<path d="M1132 1052.4V1375.2H1772" fill="none" stroke="#0c0c0c" stroke-width="3.4"/>
<path d="M1132 1054.1H1150" stroke="#0c0c0c" stroke-width="3.4"/>
<path d="M1132 1118H1150" stroke="#0c0c0c" stroke-width="3.4"/>
<path d="M1132 1181.8H1150" stroke="#0c0c0c" stroke-width="3.4"/>
<path d="M1132 1246.4H1150" stroke="#0c0c0c" stroke-width="3.4"/>
<path d="M1132 1310.2H1150" stroke="#0c0c0c" stroke-width="3.4"/>
<path d="M1345.3 1375.2V1357.2" stroke="#0c0c0c" stroke-width="3.4"/>
<path d="M1558 1375.2V1357.2" stroke="#0c0c0c" stroke-width="3.4"/>
<path d="M1770.3 1375.2V1357.2" stroke="#0c0c0c" stroke-width="3.4"/>
<g filter="url(#soft)"><path d="M220.5 1119.6L432 1119.6L433.5 1068L437.5 1065.5L438.6 1066.3L439.7 1067L440.8 1067.7L441.9 1068.4L443 1069.3L444.3 1070.4L445.7 1071.7L447.1 1073.2L448.6 1074.9L450.2 1076.6L451.7 1078.4L453.2 1080.1L454.7 1081.8L456.2 1083.6L457.7 1085.4L459.1 1087.3L460.6 1089.1L462.1 1090.8L463.6 1092.5L465 1094.2L466.5 1095.9L468 1097.5L469.4 1099L470.9 1100.5L472.4 1101.9L473.9 1103.2L475.3 1104.4L476.8 1105.5L478.3 1106.6L479.8 1107.6L481.3 1108.5L482.8 1109.3L484.3 1110.1L485.7 1110.8L487.2 1111.5L488.7 1112.1L490.2 1112.7L491.6 1113.3L493.1 1113.8L494.6 1114.3L496 1114.8L497.5 1115.2L498.9 1115.6L500.1 1116L501.4 1116.4L502.8 1116.7L504.4 1117.1L506.4 1117.4L508.6 1117.7L511 1118L513.6 1118.3L516.6 1118.6L520 1118.9L524.1 1119.1L528.9 1119.3L534.4 1119.4L540.4 1119.6L546.7 1119.7L553.2 1119.7L559.6 1119.8L566 1119.8L572.7 1119.9L579.5 1119.8L586.4 1119.8L593.2 1119.8L600 1119.8L645.5 1119.8L650 1172L653 1174.5L654.1 1174L655.2 1173.7L656.3 1173.3L657.5 1172.8L658.6 1172.1L659.9 1170.9L661.3 1169.2L662.7 1167.1L664.2 1164.7L665.8 1162.3L667.3 1159.8L668.8 1157.6L670.3 1155.6L671.7 1153.6L673.2 1151.7L674.7 1149.8L676.1 1147.9L677.6 1146.1L679.1 1144.3L680.6 1142.4L682 1140.6L683.5 1138.8L685 1137.1L686.5 1135.5L688 1134L689.5 1132.5L691 1131.1L692.4 1129.8L693.9 1128.6L695.4 1127.5L696.8 1126.5L698.2 1125.6L699.5 1124.7L700.9 1124L702.5 1123.3L704.2 1122.6L706.1 1122L708.1 1121.4L710.3 1120.9L712.6 1120.4L715 1120L717.5 1119.6L720.2 1119.3L723.1 1119L726.1 1118.8L729.1 1118.6L732.2 1118.5L735.2 1118.4L738.1 1118.4L740.8 1118.5L743.5 1118.6L746.4 1118.7L749.5 1118.9L753 1119L757 1119.1L761.4 1119.2L766.1 1119.3L770.9 1119.4L775.4 1119.5L779.6 1119.6L783.4 1119.6L786.9 1119.6L790.2 1119.6L793.4 1119.6L796.7 1119.6L800 1119.6L856 1119.6" fill="none" stroke="#8e8e8e" stroke-width="10.8" stroke-linejoin="round"/><path d="M220.5 1119.6L432 1119.6L433.5 1068L437.5 1065.5L438.6 1066.3L439.7 1067L440.8 1067.7L441.9 1068.4L443 1069.3L444.3 1070.4L445.7 1071.7L447.1 1073.2L448.6 1074.9L450.2 1076.6L451.7 1078.4L453.2 1080.1L454.7 1081.8L456.2 1083.6L457.7 1085.4L459.1 1087.3L460.6 1089.1L462.1 1090.8L463.6 1092.5L465 1094.2L466.5 1095.9L468 1097.5L469.4 1099L470.9 1100.5L472.4 1101.9L473.9 1103.2L475.3 1104.4L476.8 1105.5L478.3 1106.6L479.8 1107.6L481.3 1108.5L482.8 1109.3L484.3 1110.1L485.7 1110.8L487.2 1111.5L488.7 1112.1L490.2 1112.7L491.6 1113.3L493.1 1113.8L494.6 1114.3L496 1114.8L497.5 1115.2L498.9 1115.6L500.1 1116L501.4 1116.4L502.8 1116.7L504.4 1117.1L506.4 1117.4L508.6 1117.7L511 1118L513.6 1118.3L516.6 1118.6L520 1118.9L524.1 1119.1L528.9 1119.3L534.4 1119.4L540.4 1119.6L546.7 1119.7L553.2 1119.7L559.6 1119.8L566 1119.8L572.7 1119.9L579.5 1119.8L586.4 1119.8L593.2 1119.8L600 1119.8L645.5 1119.8L650 1172L653 1174.5L654.1 1174L655.2 1173.7L656.3 1173.3L657.5 1172.8L658.6 1172.1L659.9 1170.9L661.3 1169.2L662.7 1167.1L664.2 1164.7L665.8 1162.3L667.3 1159.8L668.8 1157.6L670.3 1155.6L671.7 1153.6L673.2 1151.7L674.7 1149.8L676.1 1147.9L677.6 1146.1L679.1 1144.3L680.6 1142.4L682 1140.6L683.5 1138.8L685 1137.1L686.5 1135.5L688 1134L689.5 1132.5L691 1131.1L692.4 1129.8L693.9 1128.6L695.4 1127.5L696.8 1126.5L698.2 1125.6L699.5 1124.7L700.9 1124L702.5 1123.3L704.2 1122.6L706.1 1122L708.1 1121.4L710.3 1120.9L712.6 1120.4L715 1120L717.5 1119.6L720.2 1119.3L723.1 1119L726.1 1118.8L729.1 1118.6L732.2 1118.5L735.2 1118.4L738.1 1118.4L740.8 1118.5L743.5 1118.6L746.4 1118.7L749.5 1118.9L753 1119L757 1119.1L761.4 1119.2L766.1 1119.3L770.9 1119.4L775.4 1119.5L779.6 1119.6L783.4 1119.6L786.9 1119.6L790.2 1119.6L793.4 1119.6L796.7 1119.6L800 1119.6L856 1119.6" fill="none" stroke="#5f5f5f" stroke-width="5.2" stroke-linejoin="round" transform="translate(0 0.9)"/></g>
<g filter="url(#soft)"><path d="M220.5 1301L432.5 1301L434.5 1268L436.6 1265.7L438.1 1265.2L439.6 1264.8L441.1 1264.4L442.5 1263.9L444 1263.3L445.5 1262.6L447 1261.6L448.4 1260.5L449.9 1259.2L451.4 1257.9L452.8 1256.6L454.3 1255.5L455.8 1254.5L457.3 1253.5L458.8 1252.6L460.2 1251.7L461.7 1250.9L463.2 1250.1L464.7 1249.4L466.1 1248.7L467.6 1248.2L469.1 1247.6L470.5 1247.1L472 1246.6L473.4 1246.2L474.6 1245.8L475.9 1245.4L477.3 1245.1L478.9 1244.7L480.9 1244.4L483.4 1244.1L486.2 1243.7L489.2 1243.4L492.4 1243.1L495.6 1242.8L498.7 1242.6L501.2 1242.4L503.3 1242.2L505.3 1242.1L507.9 1241.9L511.4 1241.8L516.4 1241.7L523.5 1241.6L532.3 1241.5L542.2 1241.4L552.2 1241.4L561.6 1241.3L569.6 1241.3L576 1241.3L581.4 1241.3L586.2 1241.3L590.7 1241.3L595.2 1241.4L600 1241.4L646.5 1241.6L648.5 1271L650 1274L651.7 1274.4L653.3 1274.8L655 1275.2L656.7 1275.6L658.3 1276.1L659.9 1276.7L661.4 1277.4L662.9 1278.3L664.4 1279.2L665.9 1280.1L667.3 1281.1L668.8 1282L670.3 1282.9L671.7 1283.8L673.2 1284.6L674.7 1285.5L676.1 1286.5L677.6 1287.4L679.1 1288.4L680.6 1289.5L682 1290.6L683.5 1291.6L685 1292.7L686.5 1293.6L687.9 1294.5L689.3 1295.3L690.7 1296L692.1 1296.8L693.7 1297.4L695.4 1298L697.3 1298.5L699.3 1298.9L701.5 1299.3L703.8 1299.6L706.2 1299.9L708.7 1300.2L711 1300.4L713 1300.6L715.1 1300.8L717.7 1300.9L721.3 1301L726.4 1301.1L733.6 1301.2L742.7 1301.2L752.8 1301.2L763 1301.1L772.2 1301.1L779.6 1301.1L784.9 1301.1L788.8 1301.1L791.9 1301.1L794.4 1301.1L797 1301.1L800 1301.1L856 1301.1" fill="none" stroke="#a0a0a0" stroke-width="9.2" stroke-linejoin="round"/><path d="M220.5 1301L432.5 1301L434.5 1268L436.6 1265.7L438.1 1265.2L439.6 1264.8L441.1 1264.4L442.5 1263.9L444 1263.3L445.5 1262.6L447 1261.6L448.4 1260.5L449.9 1259.2L451.4 1257.9L452.8 1256.6L454.3 1255.5L455.8 1254.5L457.3 1253.5L458.8 1252.6L460.2 1251.7L461.7 1250.9L463.2 1250.1L464.7 1249.4L466.1 1248.7L467.6 1248.2L469.1 1247.6L470.5 1247.1L472 1246.6L473.4 1246.2L474.6 1245.8L475.9 1245.4L477.3 1245.1L478.9 1244.7L480.9 1244.4L483.4 1244.1L486.2 1243.7L489.2 1243.4L492.4 1243.1L495.6 1242.8L498.7 1242.6L501.2 1242.4L503.3 1242.2L505.3 1242.1L507.9 1241.9L511.4 1241.8L516.4 1241.7L523.5 1241.6L532.3 1241.5L542.2 1241.4L552.2 1241.4L561.6 1241.3L569.6 1241.3L576 1241.3L581.4 1241.3L586.2 1241.3L590.7 1241.3L595.2 1241.4L600 1241.4L646.5 1241.6L648.5 1271L650 1274L651.7 1274.4L653.3 1274.8L655 1275.2L656.7 1275.6L658.3 1276.1L659.9 1276.7L661.4 1277.4L662.9 1278.3L664.4 1279.2L665.9 1280.1L667.3 1281.1L668.8 1282L670.3 1282.9L671.7 1283.8L673.2 1284.6L674.7 1285.5L676.1 1286.5L677.6 1287.4L679.1 1288.4L680.6 1289.5L682 1290.6L683.5 1291.6L685 1292.7L686.5 1293.6L687.9 1294.5L689.3 1295.3L690.7 1296L692.1 1296.8L693.7 1297.4L695.4 1298L697.3 1298.5L699.3 1298.9L701.5 1299.3L703.8 1299.6L706.2 1299.9L708.7 1300.2L711 1300.4L713 1300.6L715.1 1300.8L717.7 1300.9L721.3 1301L726.4 1301.1L733.6 1301.2L742.7 1301.2L752.8 1301.2L763 1301.1L772.2 1301.1L779.6 1301.1L784.9 1301.1L788.8 1301.1L791.9 1301.1L794.4 1301.1L797 1301.1L800 1301.1L856 1301.1" fill="none" stroke="#787878" stroke-width="5.6" stroke-linejoin="round" transform="translate(0 1.5)"/></g>
<g filter="url(#soft)"><path d="M1135.5 1118.7L1345.8 1118.7L1350 1171.5L1352.8 1175L1354 1173.7L1355.1 1172.5L1356.2 1171.2L1357.4 1169.9L1358.6 1168.4L1359.9 1166.5L1361.3 1164.2L1362.7 1161.5L1364.2 1158.6L1365.8 1155.7L1367.3 1152.8L1368.8 1150.2L1370.3 1147.8L1371.7 1145.4L1373.2 1143.2L1374.7 1141L1376.1 1138.9L1377.6 1136.9L1379.1 1134.9L1380.6 1133L1382 1131.2L1383.5 1129.5L1385 1127.8L1386.5 1126.2L1388 1124.7L1389.5 1123.2L1391 1121.8L1392.4 1120.5L1393.9 1119.3L1395.4 1118.3L1396.8 1117.4L1398.2 1116.7L1399.5 1116.1L1400.9 1115.5L1402.5 1115.1L1404.2 1114.7L1406.2 1114.4L1408.3 1114.1L1410.6 1113.9L1412.9 1113.8L1415.2 1113.7L1417.5 1113.8L1419.7 1114L1421.9 1114.3L1424.2 1114.7L1426.4 1115.1L1428.6 1115.6L1430.8 1116L1432.8 1116.4L1434.4 1116.8L1436.1 1117.2L1438 1117.6L1440.6 1118L1444.1 1118.3L1448.9 1118.5L1454.8 1118.7L1461.4 1118.8L1468.1 1119L1474.3 1119L1479.6 1119.1L1483.9 1119.1L1487.5 1119.1L1490.7 1119.1L1493.8 1119.1L1496.8 1119L1500 1119L1560.8 1118.6L1562 1068L1564.6 1066.8L1565.5 1067.6L1566.3 1068.4L1567.2 1069.2L1568 1070L1568.9 1070.9L1569.9 1071.9L1570.9 1073.1L1572 1074.3L1573.2 1075.7L1574.3 1077.1L1575.5 1078.5L1576.6 1079.9L1577.7 1081.3L1578.8 1082.8L1579.9 1084.3L1581 1085.7L1582.1 1087.2L1583.2 1088.6L1584.3 1090L1585.4 1091.3L1586.5 1092.6L1587.7 1093.9L1588.8 1095.2L1589.9 1096.5L1591 1097.8L1592.1 1099.1L1593.2 1100.3L1594.3 1101.6L1595.4 1102.8L1596.5 1103.9L1597.6 1105L1598.7 1106L1599.9 1107.1L1601 1108L1602.1 1108.9L1603.2 1109.8L1604.3 1110.6L1605.4 1111.3L1606.5 1112L1607.6 1112.6L1608.7 1113.2L1609.8 1113.8L1610.9 1114.3L1611.9 1114.8L1612.9 1115.2L1614 1115.7L1615.2 1116.1L1616.5 1116.5L1617.9 1117L1619.4 1117.4L1621 1117.9L1622.7 1118.3L1624.5 1118.8L1626.4 1119.1L1628.3 1119.4L1630.3 1119.6L1632.4 1119.8L1634.6 1120L1637.1 1120.1L1639.7 1120.2L1642.6 1120.2L1645.9 1120.2L1649.3 1120.1L1652.8 1120L1656.3 1119.9L1659.7 1119.8L1770 1119" fill="none" stroke="#8e8e8e" stroke-width="10.8" stroke-linejoin="round"/><path d="M1135.5 1118.7L1345.8 1118.7L1350 1171.5L1352.8 1175L1354 1173.7L1355.1 1172.5L1356.2 1171.2L1357.4 1169.9L1358.6 1168.4L1359.9 1166.5L1361.3 1164.2L1362.7 1161.5L1364.2 1158.6L1365.8 1155.7L1367.3 1152.8L1368.8 1150.2L1370.3 1147.8L1371.7 1145.4L1373.2 1143.2L1374.7 1141L1376.1 1138.9L1377.6 1136.9L1379.1 1134.9L1380.6 1133L1382 1131.2L1383.5 1129.5L1385 1127.8L1386.5 1126.2L1388 1124.7L1389.5 1123.2L1391 1121.8L1392.4 1120.5L1393.9 1119.3L1395.4 1118.3L1396.8 1117.4L1398.2 1116.7L1399.5 1116.1L1400.9 1115.5L1402.5 1115.1L1404.2 1114.7L1406.2 1114.4L1408.3 1114.1L1410.6 1113.9L1412.9 1113.8L1415.2 1113.7L1417.5 1113.8L1419.7 1114L1421.9 1114.3L1424.2 1114.7L1426.4 1115.1L1428.6 1115.6L1430.8 1116L1432.8 1116.4L1434.4 1116.8L1436.1 1117.2L1438 1117.6L1440.6 1118L1444.1 1118.3L1448.9 1118.5L1454.8 1118.7L1461.4 1118.8L1468.1 1119L1474.3 1119L1479.6 1119.1L1483.9 1119.1L1487.5 1119.1L1490.7 1119.1L1493.8 1119.1L1496.8 1119L1500 1119L1560.8 1118.6L1562 1068L1564.6 1066.8L1565.5 1067.6L1566.3 1068.4L1567.2 1069.2L1568 1070L1568.9 1070.9L1569.9 1071.9L1570.9 1073.1L1572 1074.3L1573.2 1075.7L1574.3 1077.1L1575.5 1078.5L1576.6 1079.9L1577.7 1081.3L1578.8 1082.8L1579.9 1084.3L1581 1085.7L1582.1 1087.2L1583.2 1088.6L1584.3 1090L1585.4 1091.3L1586.5 1092.6L1587.7 1093.9L1588.8 1095.2L1589.9 1096.5L1591 1097.8L1592.1 1099.1L1593.2 1100.3L1594.3 1101.6L1595.4 1102.8L1596.5 1103.9L1597.6 1105L1598.7 1106L1599.9 1107.1L1601 1108L1602.1 1108.9L1603.2 1109.8L1604.3 1110.6L1605.4 1111.3L1606.5 1112L1607.6 1112.6L1608.7 1113.2L1609.8 1113.8L1610.9 1114.3L1611.9 1114.8L1612.9 1115.2L1614 1115.7L1615.2 1116.1L1616.5 1116.5L1617.9 1117L1619.4 1117.4L1621 1117.9L1622.7 1118.3L1624.5 1118.8L1626.4 1119.1L1628.3 1119.4L1630.3 1119.6L1632.4 1119.8L1634.6 1120L1637.1 1120.1L1639.7 1120.2L1642.6 1120.2L1645.9 1120.2L1649.3 1120.1L1652.8 1120L1656.3 1119.9L1659.7 1119.8L1770 1119" fill="none" stroke="#5f5f5f" stroke-width="5.2" stroke-linejoin="round" transform="translate(0 0.9)"/></g>
<g filter="url(#soft)"><path d="M1135.5 1300.4L1345.1 1300.4L1350.4 1338.5L1351.3 1338.5L1353.7 1340L1356.1 1341.5L1358.5 1343L1360.9 1344.4L1363.2 1345.9L1365.5 1347.4L1367.7 1348.9L1369.8 1350.5L1371.9 1352.1L1374 1353.6L1376 1355L1377.9 1356.2L1379.8 1357.2L1381.5 1358.1L1383.2 1358.9L1384.9 1359.6L1386.7 1360.2L1388.5 1360.7L1390.2 1361.2L1391.6 1361.6L1393.1 1361.9L1395 1362.1L1397.5 1362.3L1400.9 1362.4L1405.3 1362.5L1410.4 1362.4L1416.1 1362.3L1422.4 1362.2L1429.2 1362L1436.4 1361.9L1444.2 1361.7L1452.8 1361.5L1461.9 1361.3L1471.2 1361L1480.5 1360.8L1489.6 1360.7L1498.9 1360.6L1508.8 1360.6L1518.6 1360.7L1528 1360.7L1536.2 1360.7L1542.8 1360.7L1547.4 1360.6L1550.4 1360.5L1552.3 1360.4L1553.7 1360.3L1555.1 1360.1L1557 1360L1559.8 1359.8L1562 1322L1564.5 1319.9L1566.7 1318.9L1568.9 1318L1571.1 1317.1L1573.3 1316.1L1575.7 1315L1578.2 1313.7L1580.9 1312.1L1583.8 1310.2L1586.8 1308.2L1589.9 1306.2L1593 1304.4L1596 1303L1598.8 1302L1601.3 1301.2L1603.8 1300.6L1606.5 1300.2L1609.7 1299.8L1613.7 1299.5L1618.6 1299.2L1624.4 1299L1630.6 1298.9L1637 1298.9L1643.3 1298.8L1649.1 1298.8L1654.5 1298.8L1659.7 1298.8L1664.8 1298.8L1669.9 1298.9L1674.9 1299L1680 1299L1770 1299.2" fill="none" stroke="#a0a0a0" stroke-width="9.2" stroke-linejoin="round"/><path d="M1135.5 1300.4L1345.1 1300.4L1350.4 1338.5L1351.3 1338.5L1353.7 1340L1356.1 1341.5L1358.5 1343L1360.9 1344.4L1363.2 1345.9L1365.5 1347.4L1367.7 1348.9L1369.8 1350.5L1371.9 1352.1L1374 1353.6L1376 1355L1377.9 1356.2L1379.8 1357.2L1381.5 1358.1L1383.2 1358.9L1384.9 1359.6L1386.7 1360.2L1388.5 1360.7L1390.2 1361.2L1391.6 1361.6L1393.1 1361.9L1395 1362.1L1397.5 1362.3L1400.9 1362.4L1405.3 1362.5L1410.4 1362.4L1416.1 1362.3L1422.4 1362.2L1429.2 1362L1436.4 1361.9L1444.2 1361.7L1452.8 1361.5L1461.9 1361.3L1471.2 1361L1480.5 1360.8L1489.6 1360.7L1498.9 1360.6L1508.8 1360.6L1518.6 1360.7L1528 1360.7L1536.2 1360.7L1542.8 1360.7L1547.4 1360.6L1550.4 1360.5L1552.3 1360.4L1553.7 1360.3L1555.1 1360.1L1557 1360L1559.8 1359.8L1562 1322L1564.5 1319.9L1566.7 1318.9L1568.9 1318L1571.1 1317.1L1573.3 1316.1L1575.7 1315L1578.2 1313.7L1580.9 1312.1L1583.8 1310.2L1586.8 1308.2L1589.9 1306.2L1593 1304.4L1596 1303L1598.8 1302L1601.3 1301.2L1603.8 1300.6L1606.5 1300.2L1609.7 1299.8L1613.7 1299.5L1618.6 1299.2L1624.4 1299L1630.6 1298.9L1637 1298.9L1643.3 1298.8L1649.1 1298.8L1654.5 1298.8L1659.7 1298.8L1664.8 1298.8L1669.9 1298.9L1674.9 1299L1680 1299L1770 1299.2" fill="none" stroke="#787878" stroke-width="5.6" stroke-linejoin="round" transform="translate(0 1.5)"/></g>
<path d="M353.5 1169.2L406.5 1126.8" stroke="#000" stroke-width="3"/>
<path d="M357.7 1256.4L423.2 1294.6" stroke="#000" stroke-width="3"/>
<path d="M1411.8 1174.6L1479.6 1124.9" stroke="#000" stroke-width="3"/>
<path d="M1418.7 1303L1496.7 1354.5" stroke="#000" stroke-width="3"/>
<g style="font-family:'Liberation Serif','Noto Serif CJK SC',serif" font-size="63" fill="#1a1a1a"><text x="202.1" y="55.4" text-anchor="end">400</text>
<text x="202.1" y="135.2" text-anchor="end">200</text>
<text x="202.1" y="214.9" text-anchor="end">0</text>
<text x="202.1" y="293.9" text-anchor="end"><tspan>−</tspan><tspan dx="-4">200</tspan></text>
<text x="202.1" y="374.4" text-anchor="end"><tspan>−</tspan><tspan dx="-4">400</tspan></text>
<text x="1117" y="55.4" text-anchor="end">400</text>
<text x="1117" y="135.2" text-anchor="end">200</text>
<text x="1117" y="214.9" text-anchor="end">0</text>
<text x="1117" y="293.9" text-anchor="end"><tspan>−</tspan><tspan dx="-4">200</tspan></text>
<text x="1117" y="374.4" text-anchor="end"><tspan>−</tspan><tspan dx="-4">400</tspan></text>
<text x="202.1" y="551.2" text-anchor="end">400</text>
<text x="202.1" y="631.3" text-anchor="end">200</text>
<text x="202.1" y="711.3" text-anchor="end">0</text>
<text x="202.1" y="790.2" text-anchor="end"><tspan>−</tspan><tspan dx="-4">200</tspan></text>
<text x="202.1" y="870.3" text-anchor="end"><tspan>−</tspan><tspan dx="-4">400</tspan></text>
<text x="1117" y="551.2" text-anchor="end">400</text>
<text x="1117" y="631.3" text-anchor="end">200</text>
<text x="1117" y="711.3" text-anchor="end">0</text>
<text x="1117" y="790.2" text-anchor="end"><tspan>−</tspan><tspan dx="-4">200</tspan></text>
<text x="1117" y="870.3" text-anchor="end"><tspan>−</tspan><tspan dx="-4">400</tspan></text>
<text x="202.1" y="1078.2" text-anchor="end">30</text>
<text x="202.1" y="1141" text-anchor="end">20</text>
<text x="202.1" y="1205.1" text-anchor="end">10</text>
<text x="202.1" y="1267.8" text-anchor="end">0</text>
<text x="202.1" y="1332" text-anchor="end"><tspan>−</tspan><tspan dx="-4">10</tspan></text>
<text x="202.1" y="1396.1" text-anchor="end"><tspan>−</tspan><tspan dx="-4">20</tspan></text>
<text x="1117" y="1078.2" text-anchor="end">30</text>
<text x="1117" y="1141" text-anchor="end">20</text>
<text x="1117" y="1205.1" text-anchor="end">10</text>
<text x="1117" y="1267.8" text-anchor="end">0</text>
<text x="1117" y="1332" text-anchor="end"><tspan>−</tspan><tspan dx="-4">10</tspan></text>
<text x="1117" y="1396.1" text-anchor="end"><tspan>−</tspan><tspan dx="-4">20</tspan></text>
<text x="219.2" y="432.3" text-anchor="middle">1.0</text>
<text x="428.9" y="432.3" text-anchor="middle">1.5</text>
<text x="637.2" y="432.3" text-anchor="middle">2.0</text>
<text x="846.5" y="432.3" text-anchor="middle">2.5</text>
<text x="219.2" y="928.5" text-anchor="middle">1.0</text>
<text x="428.9" y="928.5" text-anchor="middle">1.5</text>
<text x="637.2" y="928.5" text-anchor="middle">2.0</text>
<text x="846.5" y="928.5" text-anchor="middle">2.5</text>
<text x="219.2" y="1454" text-anchor="middle">1.0</text>
<text x="428.9" y="1454" text-anchor="middle">1.5</text>
<text x="637.2" y="1454" text-anchor="middle">2.0</text>
<text x="846.5" y="1454" text-anchor="middle">2.5</text>
<text x="493" y="499"><tspan font-style="italic">t</tspan> / s</text>
<text x="493" y="995"><tspan font-style="italic">t</tspan> / s</text>
<text x="493" y="1519.5"><tspan font-style="italic">t</tspan> / s</text>
<text x="1134" y="432.3" text-anchor="middle">1.0</text>
<text x="1343.7" y="432.3" text-anchor="middle">1.5</text>
<text x="1552" y="432.3" text-anchor="middle">2.0</text>
<text x="1761.3" y="432.3" text-anchor="middle">2.5</text>
<text x="1134" y="928.5" text-anchor="middle">1.0</text>
<text x="1343.7" y="928.5" text-anchor="middle">1.5</text>
<text x="1552" y="928.5" text-anchor="middle">2.0</text>
<text x="1761.3" y="928.5" text-anchor="middle">2.5</text>
<text x="1134" y="1454" text-anchor="middle">1.0</text>
<text x="1343.7" y="1454" text-anchor="middle">1.5</text>
<text x="1552" y="1454" text-anchor="middle">2.0</text>
<text x="1761.3" y="1454" text-anchor="middle">2.5</text>
<text x="1407.8" y="499"><tspan font-style="italic">t</tspan> / s</text>
<text x="1407.8" y="995"><tspan font-style="italic">t</tspan> / s</text>
<text x="1407.8" y="1519.5"><tspan font-style="italic">t</tspan> / s</text>
<text transform="translate(52.4 276.5) rotate(-90)"><tspan font-style="italic">U</tspan><tspan font-size="36" dy="7.5">g</tspan><tspan dy="-7.5"> / V</tspan></text>
<text transform="translate(967.2 276.5) rotate(-90)"><tspan font-style="italic">U</tspan><tspan font-size="36" dy="7.5">g</tspan><tspan dy="-7.5"> / V</tspan></text>
<text transform="translate(52.4 786.3) rotate(-90)"><tspan font-style="italic">U</tspan><tspan font-size="36" dy="7.5">vsg</tspan><tspan dy="-7.5"> / V</tspan></text>
<text transform="translate(967.2 786.3) rotate(-90)"><tspan font-style="italic">U</tspan><tspan font-size="36" dy="7.5">vsg</tspan><tspan dy="-7.5"> / V</tspan></text>
<text transform="translate(79 1384.5) rotate(-90)" letter-spacing="-0.8"><tspan font-style="italic">P</tspan> / kW,<tspan font-style="italic">Q</tspan> / W</text>
<text transform="translate(998 1384.5) rotate(-90)" letter-spacing="-0.8"><tspan font-style="italic">P</tspan> / kW,<tspan font-style="italic">Q</tspan> / W</text>
<text x="302" y="1200.5" font-style="italic">P</text>
<text x="308" y="1272" font-style="italic">Q</text>
<text x="1365" y="1196" font-style="italic">P</text>
<text x="1364" y="1316" font-style="italic">Q</text>
<text x="299.5" y="1595">(a)</text><text x="401.5" y="1595" font-size="59" letter-spacing="3.9">电网电压突减</text>
<text x="1212.9" y="1595">(b)</text><text x="1319.5" y="1595" font-size="59" letter-spacing="3.9">电网电压突增</text></g>
</svg>
</body></html>
